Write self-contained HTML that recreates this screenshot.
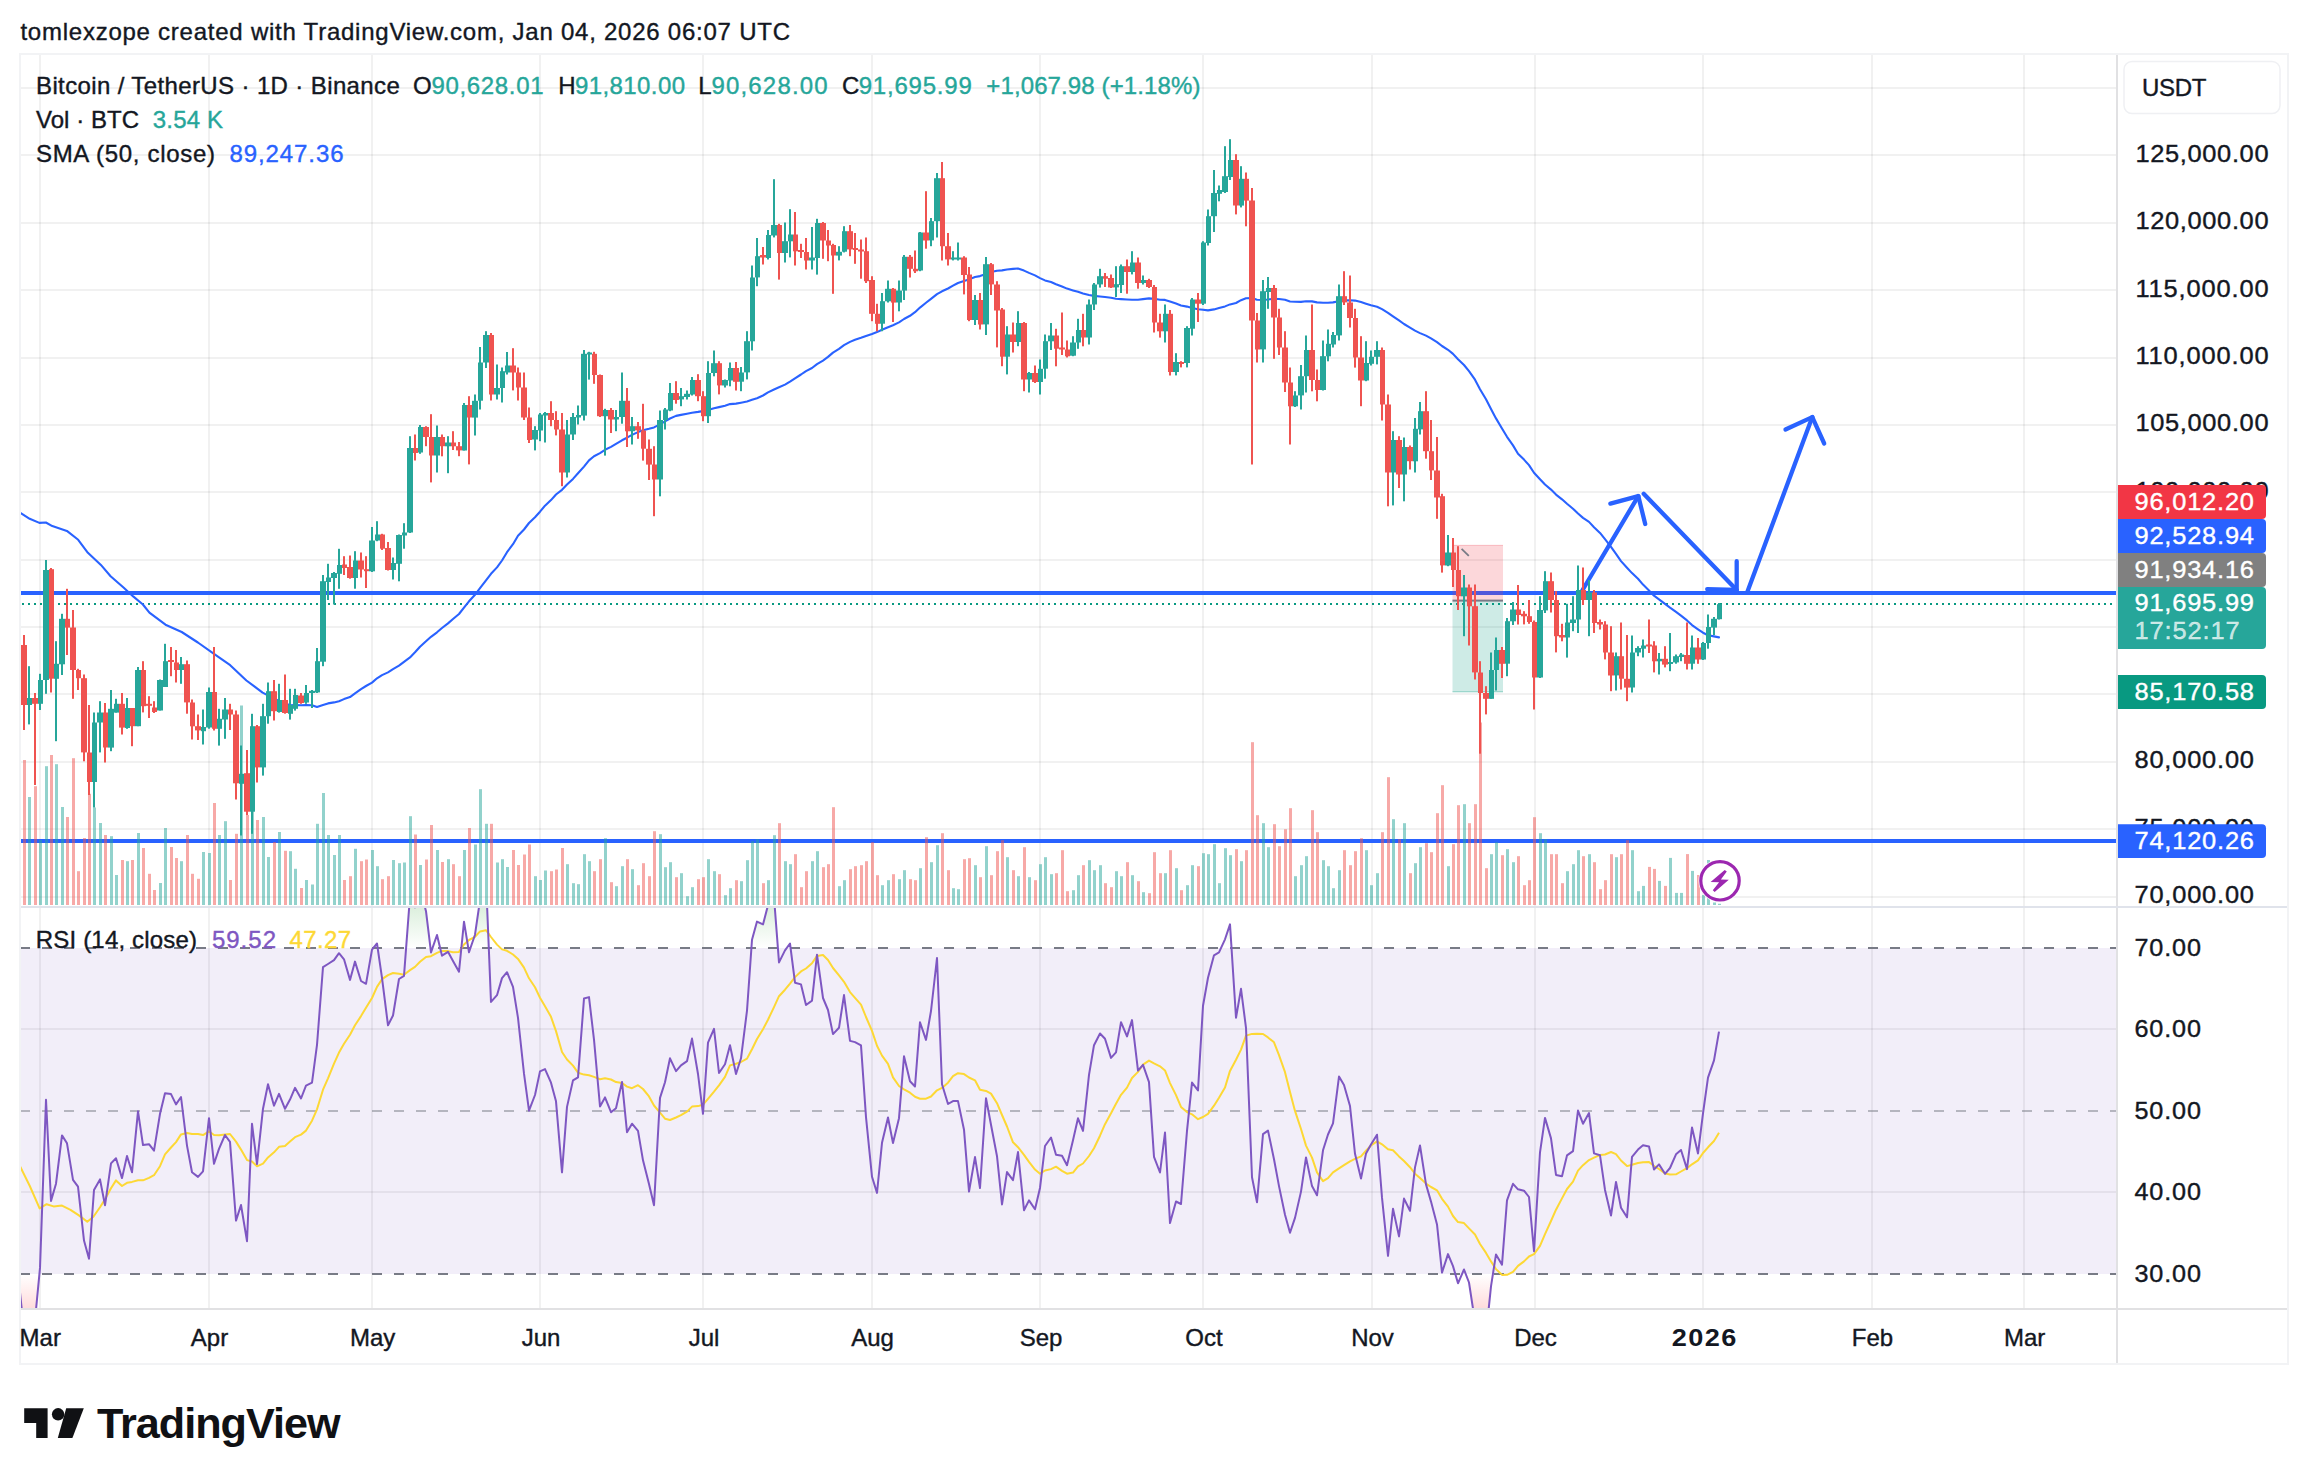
<!DOCTYPE html><html><head><meta charset="utf-8"><title>chart</title><style>html,body{margin:0;padding:0;background:#fff;width:2308px;height:1484px;overflow:hidden}</style></head><body><svg width="2308" height="1484" viewBox="0 0 2308 1484" font-family="'Liberation Sans',sans-serif" style="position:absolute;left:0;top:0">
<rect width="2308" height="1484" fill="#fff"/>
<defs><clipPath id="cm"><rect x="20" y="55" width="2096" height="851"/></clipPath><clipPath id="cr"><rect x="20" y="908" width="2096" height="400"/></clipPath><clipPath id="cax"><rect x="2118" y="55" width="169" height="851"/></clipPath><clipPath id="c70"><rect x="21" y="908" width="2095" height="40"/></clipPath><clipPath id="c30"><rect x="21" y="1274" width="2095" height="34"/></clipPath><linearGradient id="gup" x1="0" y1="908" x2="0" y2="948" gradientUnits="userSpaceOnUse"><stop offset="0" stop-color="#4caf50" stop-opacity="0.19"/><stop offset="1" stop-color="#4caf50" stop-opacity="0"/></linearGradient><linearGradient id="gdn" x1="0" y1="1274" x2="0" y2="1308" gradientUnits="userSpaceOnUse"><stop offset="0" stop-color="#ff5252" stop-opacity="0"/><stop offset="1" stop-color="#ff5252" stop-opacity="0.2"/></linearGradient></defs>
<rect x="20" y="948" width="2096" height="326" fill="#7e57c2" fill-opacity="0.1"/>
<rect x="39" y="55" width="2" height="1253" fill="#000" fill-opacity="0.055"/>
<rect x="208" y="55" width="2" height="1253" fill="#000" fill-opacity="0.055"/>
<rect x="371" y="55" width="2" height="1253" fill="#000" fill-opacity="0.055"/>
<rect x="539" y="55" width="2" height="1253" fill="#000" fill-opacity="0.055"/>
<rect x="702" y="55" width="2" height="1253" fill="#000" fill-opacity="0.055"/>
<rect x="871" y="55" width="2" height="1253" fill="#000" fill-opacity="0.055"/>
<rect x="1039" y="55" width="2" height="1253" fill="#000" fill-opacity="0.055"/>
<rect x="1202" y="55" width="2" height="1253" fill="#000" fill-opacity="0.055"/>
<rect x="1371" y="55" width="2" height="1253" fill="#000" fill-opacity="0.055"/>
<rect x="1534" y="55" width="2" height="1253" fill="#000" fill-opacity="0.055"/>
<rect x="1702" y="55" width="2" height="1253" fill="#000" fill-opacity="0.055"/>
<rect x="1871" y="55" width="2" height="1253" fill="#000" fill-opacity="0.055"/>
<rect x="2023" y="55" width="2" height="1253" fill="#000" fill-opacity="0.055"/>
<rect x="21" y="896" width="2095" height="2" fill="#000" fill-opacity="0.055"/>
<rect x="21" y="828" width="2095" height="2" fill="#000" fill-opacity="0.055"/>
<rect x="21" y="761" width="2095" height="2" fill="#000" fill-opacity="0.055"/>
<rect x="21" y="693" width="2095" height="2" fill="#000" fill-opacity="0.055"/>
<rect x="21" y="626" width="2095" height="2" fill="#000" fill-opacity="0.055"/>
<rect x="21" y="559" width="2095" height="2" fill="#000" fill-opacity="0.055"/>
<rect x="21" y="491" width="2095" height="2" fill="#000" fill-opacity="0.055"/>
<rect x="21" y="424" width="2095" height="2" fill="#000" fill-opacity="0.055"/>
<rect x="21" y="357" width="2095" height="2" fill="#000" fill-opacity="0.055"/>
<rect x="21" y="289" width="2095" height="2" fill="#000" fill-opacity="0.055"/>
<rect x="21" y="222" width="2095" height="2" fill="#000" fill-opacity="0.055"/>
<rect x="21" y="154" width="2095" height="2" fill="#000" fill-opacity="0.055"/>
<rect x="21" y="87" width="2095" height="2" fill="#000" fill-opacity="0.055"/>
<rect x="21" y="1028" width="2095" height="2" fill="#000" fill-opacity="0.055"/>
<rect x="21" y="1191" width="2095" height="2" fill="#000" fill-opacity="0.055"/>
<g clip-path="url(#cm)">
<rect x="20" y="591" width="2096" height="4" fill="#2962ff"/>
<rect x="20" y="839" width="2096" height="4" fill="#2962ff"/>
<path d="M22,604 H2116" stroke="#089981" stroke-width="2" stroke-dasharray="2 4" fill="none"/>
<rect x="1452.5" y="545.2" width="50.5" height="55.3" fill="#f23645" fill-opacity="0.2"/>
<rect x="1452.5" y="600.5" width="50.5" height="91.5" fill="#089981" fill-opacity="0.2"/>
<rect x="1452.5" y="691" width="50.5" height="1.5" fill="#089981" fill-opacity="0.25"/>
<rect x="1452.5" y="544.8" width="50.5" height="1.2" fill="#f23645" fill-opacity="0.2"/>
<rect x="1452.5" y="599.6" width="50.5" height="2" fill="#787b86"/>
<path d="M1461.6,548.8 L1468.8,555.8" stroke="#787b86" stroke-width="1.8" fill="none"/>
<path d="M1581.7,591.5 L1638.3,496.1" fill="none" stroke="#2962ff" stroke-width="4.3" stroke-linecap="round" stroke-linejoin="round"/>
<path d="M1610.4,503.6 L1638.3,496.1 L1645.2,524" fill="none" stroke="#2962ff" stroke-width="4.3" stroke-linecap="round" stroke-linejoin="round"/>
<path d="M1643.7,493.8 L1736.7,589.9" fill="none" stroke="#2962ff" stroke-width="4.3" stroke-linecap="round" stroke-linejoin="round"/>
<path d="M1736.7,561.2 L1736.7,589.9 L1707.2,589.1" fill="none" stroke="#2962ff" stroke-width="4.3" stroke-linecap="round" stroke-linejoin="round"/>
<path d="M1747.5,591.5 L1812.3,417.1" fill="none" stroke="#2962ff" stroke-width="4.3" stroke-linecap="round" stroke-linejoin="round"/>
<path d="M1785.5,429.5 L1812.3,417.1 L1824.2,443.5" fill="none" stroke="#2962ff" stroke-width="4.3" stroke-linecap="round" stroke-linejoin="round"/>
<rect x="23" y="760.0" width="3" height="145.0" fill="#ef5350" fill-opacity="0.5"/>
<rect x="28" y="797.0" width="3" height="108.0" fill="#26a69a" fill-opacity="0.5"/>
<rect x="34" y="786.2" width="3" height="118.8" fill="#ef5350" fill-opacity="0.5"/>
<rect x="39" y="840.0" width="3" height="65.0" fill="#26a69a" fill-opacity="0.5"/>
<rect x="45" y="766.2" width="3" height="138.8" fill="#26a69a" fill-opacity="0.5"/>
<rect x="50" y="755.0" width="3" height="150.0" fill="#ef5350" fill-opacity="0.5"/>
<rect x="55" y="764.2" width="3" height="140.8" fill="#26a69a" fill-opacity="0.5"/>
<rect x="61" y="807.0" width="3" height="98.0" fill="#26a69a" fill-opacity="0.5"/>
<rect x="66" y="817.0" width="3" height="88.0" fill="#ef5350" fill-opacity="0.5"/>
<rect x="72" y="758.2" width="3" height="146.8" fill="#ef5350" fill-opacity="0.5"/>
<rect x="77" y="871.2" width="3" height="33.8" fill="#ef5350" fill-opacity="0.5"/>
<rect x="83" y="838.0" width="3" height="67.0" fill="#ef5350" fill-opacity="0.5"/>
<rect x="88" y="793.8" width="3" height="111.2" fill="#ef5350" fill-opacity="0.5"/>
<rect x="93" y="807.5" width="3" height="97.5" fill="#26a69a" fill-opacity="0.5"/>
<rect x="99" y="823.0" width="3" height="82.0" fill="#26a69a" fill-opacity="0.5"/>
<rect x="104" y="835.0" width="3" height="70.0" fill="#ef5350" fill-opacity="0.5"/>
<rect x="110" y="836.2" width="3" height="68.8" fill="#26a69a" fill-opacity="0.5"/>
<rect x="115" y="875.0" width="3" height="30.0" fill="#26a69a" fill-opacity="0.5"/>
<rect x="121" y="860.0" width="3" height="45.0" fill="#ef5350" fill-opacity="0.5"/>
<rect x="126" y="861.2" width="3" height="43.8" fill="#26a69a" fill-opacity="0.5"/>
<rect x="131" y="860.0" width="3" height="45.0" fill="#ef5350" fill-opacity="0.5"/>
<rect x="137" y="833.0" width="3" height="72.0" fill="#26a69a" fill-opacity="0.5"/>
<rect x="142" y="848.0" width="3" height="57.0" fill="#ef5350" fill-opacity="0.5"/>
<rect x="148" y="873.8" width="3" height="31.2" fill="#ef5350" fill-opacity="0.5"/>
<rect x="153" y="890.0" width="3" height="15.0" fill="#ef5350" fill-opacity="0.5"/>
<rect x="159" y="883.0" width="3" height="22.0" fill="#26a69a" fill-opacity="0.5"/>
<rect x="164" y="828.0" width="3" height="77.0" fill="#26a69a" fill-opacity="0.5"/>
<rect x="170" y="847.0" width="3" height="58.0" fill="#ef5350" fill-opacity="0.5"/>
<rect x="175" y="858.0" width="3" height="47.0" fill="#ef5350" fill-opacity="0.5"/>
<rect x="180" y="861.2" width="3" height="43.8" fill="#26a69a" fill-opacity="0.5"/>
<rect x="186" y="835.0" width="3" height="70.0" fill="#ef5350" fill-opacity="0.5"/>
<rect x="191" y="873.8" width="3" height="31.2" fill="#ef5350" fill-opacity="0.5"/>
<rect x="197" y="878.8" width="3" height="26.2" fill="#ef5350" fill-opacity="0.5"/>
<rect x="202" y="852.0" width="3" height="53.0" fill="#26a69a" fill-opacity="0.5"/>
<rect x="208" y="853.0" width="3" height="52.0" fill="#26a69a" fill-opacity="0.5"/>
<rect x="213" y="803.0" width="3" height="102.0" fill="#ef5350" fill-opacity="0.5"/>
<rect x="218" y="835.0" width="3" height="70.0" fill="#26a69a" fill-opacity="0.5"/>
<rect x="224" y="821.2" width="3" height="83.8" fill="#26a69a" fill-opacity="0.5"/>
<rect x="229" y="880.0" width="3" height="25.0" fill="#ef5350" fill-opacity="0.5"/>
<rect x="235" y="833.8" width="3" height="71.2" fill="#ef5350" fill-opacity="0.5"/>
<rect x="240" y="705.5" width="3" height="199.5" fill="#26a69a" fill-opacity="0.5"/>
<rect x="246" y="815.0" width="3" height="90.0" fill="#ef5350" fill-opacity="0.5"/>
<rect x="251" y="790.0" width="3" height="115.0" fill="#26a69a" fill-opacity="0.5"/>
<rect x="256" y="820.0" width="3" height="85.0" fill="#ef5350" fill-opacity="0.5"/>
<rect x="262" y="817.0" width="3" height="88.0" fill="#26a69a" fill-opacity="0.5"/>
<rect x="267" y="857.0" width="3" height="48.0" fill="#26a69a" fill-opacity="0.5"/>
<rect x="273" y="842.0" width="3" height="63.0" fill="#ef5350" fill-opacity="0.5"/>
<rect x="278" y="832.0" width="3" height="73.0" fill="#26a69a" fill-opacity="0.5"/>
<rect x="284" y="850.8" width="3" height="54.2" fill="#ef5350" fill-opacity="0.5"/>
<rect x="289" y="851.2" width="3" height="53.8" fill="#26a69a" fill-opacity="0.5"/>
<rect x="294" y="868.8" width="3" height="36.2" fill="#26a69a" fill-opacity="0.5"/>
<rect x="300" y="888.0" width="3" height="17.0" fill="#ef5350" fill-opacity="0.5"/>
<rect x="305" y="880.0" width="3" height="25.0" fill="#26a69a" fill-opacity="0.5"/>
<rect x="311" y="884.5" width="3" height="20.5" fill="#26a69a" fill-opacity="0.5"/>
<rect x="316" y="823.8" width="3" height="81.2" fill="#26a69a" fill-opacity="0.5"/>
<rect x="322" y="793.0" width="3" height="112.0" fill="#26a69a" fill-opacity="0.5"/>
<rect x="327" y="835.0" width="3" height="70.0" fill="#26a69a" fill-opacity="0.5"/>
<rect x="333" y="855.0" width="3" height="50.0" fill="#26a69a" fill-opacity="0.5"/>
<rect x="338" y="835.0" width="3" height="70.0" fill="#26a69a" fill-opacity="0.5"/>
<rect x="343" y="880.0" width="3" height="25.0" fill="#ef5350" fill-opacity="0.5"/>
<rect x="349" y="876.2" width="3" height="28.8" fill="#ef5350" fill-opacity="0.5"/>
<rect x="354" y="848.8" width="3" height="56.2" fill="#26a69a" fill-opacity="0.5"/>
<rect x="360" y="861.2" width="3" height="43.8" fill="#ef5350" fill-opacity="0.5"/>
<rect x="365" y="859.5" width="3" height="45.5" fill="#ef5350" fill-opacity="0.5"/>
<rect x="371" y="850.0" width="3" height="55.0" fill="#26a69a" fill-opacity="0.5"/>
<rect x="376" y="866.2" width="3" height="38.8" fill="#26a69a" fill-opacity="0.5"/>
<rect x="381" y="879.2" width="3" height="25.8" fill="#ef5350" fill-opacity="0.5"/>
<rect x="387" y="876.2" width="3" height="28.8" fill="#ef5350" fill-opacity="0.5"/>
<rect x="392" y="860.0" width="3" height="45.0" fill="#26a69a" fill-opacity="0.5"/>
<rect x="398" y="863.2" width="3" height="41.8" fill="#26a69a" fill-opacity="0.5"/>
<rect x="403" y="862.5" width="3" height="42.5" fill="#26a69a" fill-opacity="0.5"/>
<rect x="409" y="816.2" width="3" height="88.8" fill="#26a69a" fill-opacity="0.5"/>
<rect x="414" y="834.5" width="3" height="70.5" fill="#ef5350" fill-opacity="0.5"/>
<rect x="419" y="865.0" width="3" height="40.0" fill="#26a69a" fill-opacity="0.5"/>
<rect x="425" y="859.5" width="3" height="45.5" fill="#ef5350" fill-opacity="0.5"/>
<rect x="430" y="825.0" width="3" height="80.0" fill="#ef5350" fill-opacity="0.5"/>
<rect x="436" y="850.0" width="3" height="55.0" fill="#26a69a" fill-opacity="0.5"/>
<rect x="441" y="862.0" width="3" height="43.0" fill="#ef5350" fill-opacity="0.5"/>
<rect x="447" y="859.2" width="3" height="45.8" fill="#26a69a" fill-opacity="0.5"/>
<rect x="452" y="864.2" width="3" height="40.8" fill="#ef5350" fill-opacity="0.5"/>
<rect x="458" y="876.2" width="3" height="28.8" fill="#ef5350" fill-opacity="0.5"/>
<rect x="463" y="850.0" width="3" height="55.0" fill="#26a69a" fill-opacity="0.5"/>
<rect x="468" y="828.0" width="3" height="77.0" fill="#ef5350" fill-opacity="0.5"/>
<rect x="474" y="844.5" width="3" height="60.5" fill="#26a69a" fill-opacity="0.5"/>
<rect x="479" y="789.2" width="3" height="115.8" fill="#26a69a" fill-opacity="0.5"/>
<rect x="485" y="823.8" width="3" height="81.2" fill="#26a69a" fill-opacity="0.5"/>
<rect x="490" y="823.8" width="3" height="81.2" fill="#ef5350" fill-opacity="0.5"/>
<rect x="496" y="862.5" width="3" height="42.5" fill="#26a69a" fill-opacity="0.5"/>
<rect x="501" y="859.2" width="3" height="45.8" fill="#26a69a" fill-opacity="0.5"/>
<rect x="506" y="867.0" width="3" height="38.0" fill="#26a69a" fill-opacity="0.5"/>
<rect x="512" y="850.0" width="3" height="55.0" fill="#ef5350" fill-opacity="0.5"/>
<rect x="517" y="865.0" width="3" height="40.0" fill="#ef5350" fill-opacity="0.5"/>
<rect x="523" y="854.5" width="3" height="50.5" fill="#ef5350" fill-opacity="0.5"/>
<rect x="528" y="844.5" width="3" height="60.5" fill="#ef5350" fill-opacity="0.5"/>
<rect x="534" y="876.2" width="3" height="28.8" fill="#26a69a" fill-opacity="0.5"/>
<rect x="539" y="880.0" width="3" height="25.0" fill="#26a69a" fill-opacity="0.5"/>
<rect x="544" y="870.5" width="3" height="34.5" fill="#26a69a" fill-opacity="0.5"/>
<rect x="550" y="871.2" width="3" height="33.8" fill="#ef5350" fill-opacity="0.5"/>
<rect x="555" y="869.5" width="3" height="35.5" fill="#ef5350" fill-opacity="0.5"/>
<rect x="561" y="848.0" width="3" height="57.0" fill="#ef5350" fill-opacity="0.5"/>
<rect x="566" y="864.2" width="3" height="40.8" fill="#26a69a" fill-opacity="0.5"/>
<rect x="572" y="883.2" width="3" height="21.8" fill="#26a69a" fill-opacity="0.5"/>
<rect x="577" y="884.2" width="3" height="20.8" fill="#26a69a" fill-opacity="0.5"/>
<rect x="583" y="854.2" width="3" height="50.8" fill="#26a69a" fill-opacity="0.5"/>
<rect x="588" y="861.2" width="3" height="43.8" fill="#26a69a" fill-opacity="0.5"/>
<rect x="593" y="871.2" width="3" height="33.8" fill="#ef5350" fill-opacity="0.5"/>
<rect x="599" y="859.2" width="3" height="45.8" fill="#ef5350" fill-opacity="0.5"/>
<rect x="604" y="838.2" width="3" height="66.8" fill="#26a69a" fill-opacity="0.5"/>
<rect x="610" y="882.2" width="3" height="22.8" fill="#ef5350" fill-opacity="0.5"/>
<rect x="615" y="886.2" width="3" height="18.8" fill="#26a69a" fill-opacity="0.5"/>
<rect x="621" y="866.2" width="3" height="38.8" fill="#26a69a" fill-opacity="0.5"/>
<rect x="626" y="859.2" width="3" height="45.8" fill="#ef5350" fill-opacity="0.5"/>
<rect x="631" y="869.2" width="3" height="35.8" fill="#26a69a" fill-opacity="0.5"/>
<rect x="637" y="885.2" width="3" height="19.8" fill="#ef5350" fill-opacity="0.5"/>
<rect x="642" y="863.2" width="3" height="41.8" fill="#ef5350" fill-opacity="0.5"/>
<rect x="648" y="876.2" width="3" height="28.8" fill="#ef5350" fill-opacity="0.5"/>
<rect x="653" y="831.2" width="3" height="73.8" fill="#ef5350" fill-opacity="0.5"/>
<rect x="659" y="834.2" width="3" height="70.8" fill="#26a69a" fill-opacity="0.5"/>
<rect x="664" y="867.2" width="3" height="37.8" fill="#26a69a" fill-opacity="0.5"/>
<rect x="669" y="862.2" width="3" height="42.8" fill="#26a69a" fill-opacity="0.5"/>
<rect x="675" y="877.2" width="3" height="27.8" fill="#ef5350" fill-opacity="0.5"/>
<rect x="680" y="873.2" width="3" height="31.8" fill="#26a69a" fill-opacity="0.5"/>
<rect x="686" y="896.2" width="3" height="8.8" fill="#26a69a" fill-opacity="0.5"/>
<rect x="691" y="887.2" width="3" height="17.8" fill="#26a69a" fill-opacity="0.5"/>
<rect x="697" y="879.2" width="3" height="25.8" fill="#ef5350" fill-opacity="0.5"/>
<rect x="702" y="877.2" width="3" height="27.8" fill="#ef5350" fill-opacity="0.5"/>
<rect x="707" y="859.2" width="3" height="45.8" fill="#26a69a" fill-opacity="0.5"/>
<rect x="713" y="871.2" width="3" height="33.8" fill="#26a69a" fill-opacity="0.5"/>
<rect x="718" y="874.2" width="3" height="30.8" fill="#ef5350" fill-opacity="0.5"/>
<rect x="724" y="895.2" width="3" height="9.8" fill="#26a69a" fill-opacity="0.5"/>
<rect x="729" y="888.2" width="3" height="16.8" fill="#26a69a" fill-opacity="0.5"/>
<rect x="735" y="880.2" width="3" height="24.8" fill="#ef5350" fill-opacity="0.5"/>
<rect x="740" y="881.2" width="3" height="23.8" fill="#26a69a" fill-opacity="0.5"/>
<rect x="746" y="860.2" width="3" height="44.8" fill="#26a69a" fill-opacity="0.5"/>
<rect x="751" y="841.2" width="3" height="63.8" fill="#26a69a" fill-opacity="0.5"/>
<rect x="756" y="839.2" width="3" height="65.8" fill="#26a69a" fill-opacity="0.5"/>
<rect x="762" y="883.2" width="3" height="21.8" fill="#ef5350" fill-opacity="0.5"/>
<rect x="767" y="880.2" width="3" height="24.8" fill="#26a69a" fill-opacity="0.5"/>
<rect x="773" y="835.2" width="3" height="69.8" fill="#26a69a" fill-opacity="0.5"/>
<rect x="778" y="823.2" width="3" height="81.8" fill="#ef5350" fill-opacity="0.5"/>
<rect x="784" y="861.2" width="3" height="43.8" fill="#26a69a" fill-opacity="0.5"/>
<rect x="789" y="864.2" width="3" height="40.8" fill="#26a69a" fill-opacity="0.5"/>
<rect x="794" y="854.2" width="3" height="50.8" fill="#ef5350" fill-opacity="0.5"/>
<rect x="800" y="887.2" width="3" height="17.8" fill="#ef5350" fill-opacity="0.5"/>
<rect x="805" y="871.2" width="3" height="33.8" fill="#ef5350" fill-opacity="0.5"/>
<rect x="811" y="861.2" width="3" height="43.8" fill="#26a69a" fill-opacity="0.5"/>
<rect x="816" y="851.2" width="3" height="53.8" fill="#26a69a" fill-opacity="0.5"/>
<rect x="822" y="867.2" width="3" height="37.8" fill="#ef5350" fill-opacity="0.5"/>
<rect x="827" y="864.2" width="3" height="40.8" fill="#ef5350" fill-opacity="0.5"/>
<rect x="832" y="807.2" width="3" height="97.8" fill="#ef5350" fill-opacity="0.5"/>
<rect x="838" y="886.2" width="3" height="18.8" fill="#26a69a" fill-opacity="0.5"/>
<rect x="843" y="880.2" width="3" height="24.8" fill="#26a69a" fill-opacity="0.5"/>
<rect x="849" y="869.2" width="3" height="35.8" fill="#ef5350" fill-opacity="0.5"/>
<rect x="854" y="866.2" width="3" height="38.8" fill="#ef5350" fill-opacity="0.5"/>
<rect x="860" y="865.2" width="3" height="39.8" fill="#ef5350" fill-opacity="0.5"/>
<rect x="865" y="861.2" width="3" height="43.8" fill="#ef5350" fill-opacity="0.5"/>
<rect x="871" y="842.2" width="3" height="62.8" fill="#ef5350" fill-opacity="0.5"/>
<rect x="876" y="875.2" width="3" height="29.8" fill="#ef5350" fill-opacity="0.5"/>
<rect x="881" y="885.2" width="3" height="19.8" fill="#26a69a" fill-opacity="0.5"/>
<rect x="887" y="880.2" width="3" height="24.8" fill="#26a69a" fill-opacity="0.5"/>
<rect x="892" y="874.2" width="3" height="30.8" fill="#ef5350" fill-opacity="0.5"/>
<rect x="898" y="879.2" width="3" height="25.8" fill="#26a69a" fill-opacity="0.5"/>
<rect x="903" y="870.2" width="3" height="34.8" fill="#26a69a" fill-opacity="0.5"/>
<rect x="909" y="879.2" width="3" height="25.8" fill="#ef5350" fill-opacity="0.5"/>
<rect x="914" y="880.2" width="3" height="24.8" fill="#ef5350" fill-opacity="0.5"/>
<rect x="919" y="868.2" width="3" height="36.8" fill="#26a69a" fill-opacity="0.5"/>
<rect x="925" y="837.2" width="3" height="67.8" fill="#ef5350" fill-opacity="0.5"/>
<rect x="930" y="862.2" width="3" height="42.8" fill="#26a69a" fill-opacity="0.5"/>
<rect x="936" y="845.2" width="3" height="59.8" fill="#26a69a" fill-opacity="0.5"/>
<rect x="941" y="833.2" width="3" height="71.8" fill="#ef5350" fill-opacity="0.5"/>
<rect x="947" y="870.2" width="3" height="34.8" fill="#ef5350" fill-opacity="0.5"/>
<rect x="952" y="888.2" width="3" height="16.8" fill="#26a69a" fill-opacity="0.5"/>
<rect x="957" y="889.2" width="3" height="15.8" fill="#26a69a" fill-opacity="0.5"/>
<rect x="963" y="859.2" width="3" height="45.8" fill="#ef5350" fill-opacity="0.5"/>
<rect x="968" y="858.2" width="3" height="46.8" fill="#ef5350" fill-opacity="0.5"/>
<rect x="974" y="865.2" width="3" height="39.8" fill="#26a69a" fill-opacity="0.5"/>
<rect x="979" y="877.2" width="3" height="27.8" fill="#ef5350" fill-opacity="0.5"/>
<rect x="985" y="846.2" width="3" height="58.8" fill="#26a69a" fill-opacity="0.5"/>
<rect x="990" y="875.2" width="3" height="29.8" fill="#ef5350" fill-opacity="0.5"/>
<rect x="996" y="851.2" width="3" height="53.8" fill="#ef5350" fill-opacity="0.5"/>
<rect x="1001" y="840.2" width="3" height="64.8" fill="#ef5350" fill-opacity="0.5"/>
<rect x="1006" y="857.2" width="3" height="47.8" fill="#26a69a" fill-opacity="0.5"/>
<rect x="1012" y="870.2" width="3" height="34.8" fill="#ef5350" fill-opacity="0.5"/>
<rect x="1017" y="876.2" width="3" height="28.8" fill="#26a69a" fill-opacity="0.5"/>
<rect x="1023" y="847.2" width="3" height="57.8" fill="#ef5350" fill-opacity="0.5"/>
<rect x="1028" y="877.2" width="3" height="27.8" fill="#26a69a" fill-opacity="0.5"/>
<rect x="1034" y="880.2" width="3" height="24.8" fill="#ef5350" fill-opacity="0.5"/>
<rect x="1039" y="864.2" width="3" height="40.8" fill="#26a69a" fill-opacity="0.5"/>
<rect x="1044" y="857.2" width="3" height="47.8" fill="#26a69a" fill-opacity="0.5"/>
<rect x="1050" y="874.2" width="3" height="30.8" fill="#26a69a" fill-opacity="0.5"/>
<rect x="1055" y="873.2" width="3" height="31.8" fill="#ef5350" fill-opacity="0.5"/>
<rect x="1061" y="850.2" width="3" height="54.8" fill="#ef5350" fill-opacity="0.5"/>
<rect x="1066" y="891.2" width="3" height="13.8" fill="#ef5350" fill-opacity="0.5"/>
<rect x="1072" y="890.2" width="3" height="14.8" fill="#26a69a" fill-opacity="0.5"/>
<rect x="1077" y="875.2" width="3" height="29.8" fill="#26a69a" fill-opacity="0.5"/>
<rect x="1082" y="865.2" width="3" height="39.8" fill="#ef5350" fill-opacity="0.5"/>
<rect x="1088" y="860.2" width="3" height="44.8" fill="#26a69a" fill-opacity="0.5"/>
<rect x="1093" y="870.2" width="3" height="34.8" fill="#26a69a" fill-opacity="0.5"/>
<rect x="1099" y="865.2" width="3" height="39.8" fill="#26a69a" fill-opacity="0.5"/>
<rect x="1104" y="883.2" width="3" height="21.8" fill="#ef5350" fill-opacity="0.5"/>
<rect x="1110" y="887.2" width="3" height="17.8" fill="#ef5350" fill-opacity="0.5"/>
<rect x="1115" y="871.2" width="3" height="33.8" fill="#26a69a" fill-opacity="0.5"/>
<rect x="1120" y="876.2" width="3" height="28.8" fill="#26a69a" fill-opacity="0.5"/>
<rect x="1126" y="862.2" width="3" height="42.8" fill="#ef5350" fill-opacity="0.5"/>
<rect x="1131" y="875.2" width="3" height="29.8" fill="#26a69a" fill-opacity="0.5"/>
<rect x="1137" y="881.2" width="3" height="23.8" fill="#ef5350" fill-opacity="0.5"/>
<rect x="1142" y="892.2" width="3" height="12.8" fill="#26a69a" fill-opacity="0.5"/>
<rect x="1148" y="893.2" width="3" height="11.8" fill="#ef5350" fill-opacity="0.5"/>
<rect x="1153" y="852.2" width="3" height="52.8" fill="#ef5350" fill-opacity="0.5"/>
<rect x="1159" y="873.2" width="3" height="31.8" fill="#ef5350" fill-opacity="0.5"/>
<rect x="1164" y="873.2" width="3" height="31.8" fill="#26a69a" fill-opacity="0.5"/>
<rect x="1169" y="850.2" width="3" height="54.8" fill="#ef5350" fill-opacity="0.5"/>
<rect x="1175" y="868.2" width="3" height="36.8" fill="#26a69a" fill-opacity="0.5"/>
<rect x="1180" y="890.2" width="3" height="14.8" fill="#ef5350" fill-opacity="0.5"/>
<rect x="1186" y="885.2" width="3" height="19.8" fill="#26a69a" fill-opacity="0.5"/>
<rect x="1191" y="865.2" width="3" height="39.8" fill="#26a69a" fill-opacity="0.5"/>
<rect x="1197" y="866.2" width="3" height="38.8" fill="#ef5350" fill-opacity="0.5"/>
<rect x="1202" y="853.2" width="3" height="51.8" fill="#26a69a" fill-opacity="0.5"/>
<rect x="1207" y="854.2" width="3" height="50.8" fill="#26a69a" fill-opacity="0.5"/>
<rect x="1213" y="844.2" width="3" height="60.8" fill="#26a69a" fill-opacity="0.5"/>
<rect x="1218" y="883.2" width="3" height="21.8" fill="#26a69a" fill-opacity="0.5"/>
<rect x="1224" y="848.2" width="3" height="56.8" fill="#26a69a" fill-opacity="0.5"/>
<rect x="1229" y="855.2" width="3" height="49.8" fill="#26a69a" fill-opacity="0.5"/>
<rect x="1235" y="849.2" width="3" height="55.8" fill="#ef5350" fill-opacity="0.5"/>
<rect x="1240" y="861.2" width="3" height="43.8" fill="#26a69a" fill-opacity="0.5"/>
<rect x="1245" y="850.2" width="3" height="54.8" fill="#ef5350" fill-opacity="0.5"/>
<rect x="1251" y="742.2" width="3" height="162.8" fill="#ef5350" fill-opacity="0.5"/>
<rect x="1256" y="815.2" width="3" height="89.8" fill="#ef5350" fill-opacity="0.5"/>
<rect x="1262" y="823.2" width="3" height="81.8" fill="#26a69a" fill-opacity="0.5"/>
<rect x="1267" y="847.2" width="3" height="57.8" fill="#26a69a" fill-opacity="0.5"/>
<rect x="1273" y="824.2" width="3" height="80.8" fill="#ef5350" fill-opacity="0.5"/>
<rect x="1278" y="846.2" width="3" height="58.8" fill="#ef5350" fill-opacity="0.5"/>
<rect x="1284" y="829.2" width="3" height="75.8" fill="#ef5350" fill-opacity="0.5"/>
<rect x="1289" y="808.2" width="3" height="96.8" fill="#ef5350" fill-opacity="0.5"/>
<rect x="1294" y="876.2" width="3" height="28.8" fill="#26a69a" fill-opacity="0.5"/>
<rect x="1300" y="865.2" width="3" height="39.8" fill="#26a69a" fill-opacity="0.5"/>
<rect x="1305" y="856.2" width="3" height="48.8" fill="#26a69a" fill-opacity="0.5"/>
<rect x="1311" y="810.2" width="3" height="94.8" fill="#ef5350" fill-opacity="0.5"/>
<rect x="1316" y="832.2" width="3" height="72.8" fill="#ef5350" fill-opacity="0.5"/>
<rect x="1322" y="860.2" width="3" height="44.8" fill="#26a69a" fill-opacity="0.5"/>
<rect x="1327" y="866.2" width="3" height="38.8" fill="#26a69a" fill-opacity="0.5"/>
<rect x="1332" y="888.2" width="3" height="16.8" fill="#26a69a" fill-opacity="0.5"/>
<rect x="1338" y="870.2" width="3" height="34.8" fill="#26a69a" fill-opacity="0.5"/>
<rect x="1343" y="850.2" width="3" height="54.8" fill="#ef5350" fill-opacity="0.5"/>
<rect x="1349" y="865.2" width="3" height="39.8" fill="#ef5350" fill-opacity="0.5"/>
<rect x="1354" y="851.2" width="3" height="53.8" fill="#ef5350" fill-opacity="0.5"/>
<rect x="1360" y="838.2" width="3" height="66.8" fill="#ef5350" fill-opacity="0.5"/>
<rect x="1365" y="850.2" width="3" height="54.8" fill="#26a69a" fill-opacity="0.5"/>
<rect x="1370" y="885.2" width="3" height="19.8" fill="#26a69a" fill-opacity="0.5"/>
<rect x="1376" y="873.2" width="3" height="31.8" fill="#26a69a" fill-opacity="0.5"/>
<rect x="1381" y="832.2" width="3" height="72.8" fill="#ef5350" fill-opacity="0.5"/>
<rect x="1387" y="777.2" width="3" height="127.8" fill="#ef5350" fill-opacity="0.5"/>
<rect x="1392" y="819.2" width="3" height="85.8" fill="#26a69a" fill-opacity="0.5"/>
<rect x="1398" y="839.2" width="3" height="65.8" fill="#ef5350" fill-opacity="0.5"/>
<rect x="1403" y="823.2" width="3" height="81.8" fill="#26a69a" fill-opacity="0.5"/>
<rect x="1409" y="873.2" width="3" height="31.8" fill="#ef5350" fill-opacity="0.5"/>
<rect x="1414" y="863.2" width="3" height="41.8" fill="#26a69a" fill-opacity="0.5"/>
<rect x="1419" y="847.2" width="3" height="57.8" fill="#26a69a" fill-opacity="0.5"/>
<rect x="1425" y="843.2" width="3" height="61.8" fill="#ef5350" fill-opacity="0.5"/>
<rect x="1430" y="852.2" width="3" height="52.8" fill="#ef5350" fill-opacity="0.5"/>
<rect x="1436" y="813.2" width="3" height="91.8" fill="#ef5350" fill-opacity="0.5"/>
<rect x="1441" y="785.2" width="3" height="119.8" fill="#ef5350" fill-opacity="0.5"/>
<rect x="1447" y="866.2" width="3" height="38.8" fill="#26a69a" fill-opacity="0.5"/>
<rect x="1452" y="844.2" width="3" height="60.8" fill="#ef5350" fill-opacity="0.5"/>
<rect x="1457" y="805.2" width="3" height="99.8" fill="#ef5350" fill-opacity="0.5"/>
<rect x="1463" y="804.2" width="3" height="100.8" fill="#26a69a" fill-opacity="0.5"/>
<rect x="1468" y="823.2" width="3" height="81.8" fill="#ef5350" fill-opacity="0.5"/>
<rect x="1474" y="804.2" width="3" height="100.8" fill="#ef5350" fill-opacity="0.5"/>
<rect x="1479" y="722.5" width="3" height="182.5" fill="#ef5350" fill-opacity="0.5"/>
<rect x="1485" y="868.2" width="3" height="36.8" fill="#ef5350" fill-opacity="0.5"/>
<rect x="1490" y="854.2" width="3" height="50.8" fill="#26a69a" fill-opacity="0.5"/>
<rect x="1495" y="842.2" width="3" height="62.8" fill="#26a69a" fill-opacity="0.5"/>
<rect x="1501" y="855.2" width="3" height="49.8" fill="#ef5350" fill-opacity="0.5"/>
<rect x="1506" y="849.2" width="3" height="55.8" fill="#26a69a" fill-opacity="0.5"/>
<rect x="1512" y="862.2" width="3" height="42.8" fill="#26a69a" fill-opacity="0.5"/>
<rect x="1517" y="856.2" width="3" height="48.8" fill="#ef5350" fill-opacity="0.5"/>
<rect x="1523" y="885.2" width="3" height="19.8" fill="#ef5350" fill-opacity="0.5"/>
<rect x="1528" y="880.2" width="3" height="24.8" fill="#ef5350" fill-opacity="0.5"/>
<rect x="1533" y="817.2" width="3" height="87.8" fill="#ef5350" fill-opacity="0.5"/>
<rect x="1539" y="833.2" width="3" height="71.8" fill="#26a69a" fill-opacity="0.5"/>
<rect x="1544" y="839.2" width="3" height="65.8" fill="#26a69a" fill-opacity="0.5"/>
<rect x="1550" y="854.2" width="3" height="50.8" fill="#ef5350" fill-opacity="0.5"/>
<rect x="1555" y="854.2" width="3" height="50.8" fill="#ef5350" fill-opacity="0.5"/>
<rect x="1561" y="883.2" width="3" height="21.8" fill="#ef5350" fill-opacity="0.5"/>
<rect x="1566" y="871.2" width="3" height="33.8" fill="#26a69a" fill-opacity="0.5"/>
<rect x="1572" y="864.2" width="3" height="40.8" fill="#26a69a" fill-opacity="0.5"/>
<rect x="1577" y="850.2" width="3" height="54.8" fill="#26a69a" fill-opacity="0.5"/>
<rect x="1582" y="856.2" width="3" height="48.8" fill="#ef5350" fill-opacity="0.5"/>
<rect x="1588" y="854.2" width="3" height="50.8" fill="#26a69a" fill-opacity="0.5"/>
<rect x="1593" y="862.2" width="3" height="42.8" fill="#ef5350" fill-opacity="0.5"/>
<rect x="1599" y="889.2" width="3" height="15.8" fill="#ef5350" fill-opacity="0.5"/>
<rect x="1604" y="880.2" width="3" height="24.8" fill="#ef5350" fill-opacity="0.5"/>
<rect x="1610" y="854.2" width="3" height="50.8" fill="#ef5350" fill-opacity="0.5"/>
<rect x="1615" y="857.2" width="3" height="47.8" fill="#26a69a" fill-opacity="0.5"/>
<rect x="1620" y="854.2" width="3" height="50.8" fill="#ef5350" fill-opacity="0.5"/>
<rect x="1626" y="840.2" width="3" height="64.8" fill="#ef5350" fill-opacity="0.5"/>
<rect x="1631" y="850.2" width="3" height="54.8" fill="#26a69a" fill-opacity="0.5"/>
<rect x="1637" y="891.2" width="3" height="13.8" fill="#26a69a" fill-opacity="0.5"/>
<rect x="1642" y="885.9" width="3" height="19.1" fill="#26a69a" fill-opacity="0.5"/>
<rect x="1648" y="866.9" width="3" height="38.1" fill="#ef5350" fill-opacity="0.5"/>
<rect x="1653" y="868.9" width="3" height="36.1" fill="#ef5350" fill-opacity="0.5"/>
<rect x="1658" y="880.9" width="3" height="24.1" fill="#26a69a" fill-opacity="0.5"/>
<rect x="1664" y="885.9" width="3" height="19.1" fill="#ef5350" fill-opacity="0.5"/>
<rect x="1669" y="857.9" width="3" height="47.1" fill="#26a69a" fill-opacity="0.5"/>
<rect x="1675" y="892.9" width="3" height="12.1" fill="#26a69a" fill-opacity="0.5"/>
<rect x="1680" y="892.9" width="3" height="12.1" fill="#26a69a" fill-opacity="0.5"/>
<rect x="1686" y="854.1" width="3" height="50.9" fill="#ef5350" fill-opacity="0.5"/>
<rect x="1691" y="870.9" width="3" height="34.1" fill="#26a69a" fill-opacity="0.5"/>
<rect x="1697" y="875.0" width="3" height="30.0" fill="#ef5350" fill-opacity="0.5"/>
<rect x="1702" y="895.0" width="3" height="10.0" fill="#26a69a" fill-opacity="0.5"/>
<rect x="1707" y="860.0" width="3" height="45.0" fill="#26a69a" fill-opacity="0.5"/>
<rect x="1713" y="902.5" width="3" height="2.5" fill="#26a69a" fill-opacity="0.5"/>
<rect x="1718" y="903.8" width="3" height="1.2" fill="#26a69a" fill-opacity="0.5"/>
<path d="M19.0,512.3 L20.8,513.1 L29.7,518.8 L39.4,522.9 L45.9,522.5 L52.3,526.1 L66.9,530.9 L78.2,539.8 L87.9,552.8 L100.9,564.9 L110.6,576.2 L123.5,587.5 L133.2,596.4 L142.9,604.5 L149.4,612.6 L165.5,624.7 L181.7,632.0 L197.9,642.5 L214.0,653.8 L230.2,665.2 L246.4,680.5 L262.6,692.6 L267.4,695.1 L278.0,700.5 L290.0,705.3 L295.0,705.1 L301.0,705.2 L306.0,705.0 L312.0,705.2 L317.0,707.0 L323.0,705.1 L328.0,703.4 L334.0,702.4 L339.0,701.2 L344.0,699.1 L350.0,697.1 L355.0,693.3 L361.0,689.1 L366.0,686.0 L372.0,682.6 L377.0,678.3 L382.0,675.1 L388.0,672.4 L393.0,669.2 L399.0,665.7 L404.0,661.8 L410.0,657.4 L415.0,652.3 L420.0,646.7 L426.0,641.2 L431.0,636.8 L437.0,632.3 L442.0,628.0 L448.0,623.4 L453.0,619.0 L459.0,614.0 L464.0,607.6 L469.0,601.3 L475.0,594.8 L480.0,588.2 L486.0,580.3 L491.0,573.8 L497.0,567.4 L502.0,560.5 L507.0,552.2 L513.0,544.2 L518.0,535.7 L524.0,529.5 L529.0,523.0 L535.0,517.2 L540.0,511.7 L545.0,505.7 L551.0,500.1 L556.0,494.5 L562.0,489.8 L567.0,484.6 L573.0,478.9 L578.0,473.3 L584.0,466.6 L589.0,460.4 L594.0,456.3 L600.0,453.1 L605.0,449.8 L611.0,446.9 L616.0,443.9 L622.0,440.3 L627.0,437.7 L632.0,434.9 L638.0,432.1 L643.0,430.2 L649.0,428.8 L654.0,427.4 L660.0,424.4 L665.0,421.4 L670.0,418.5 L676.0,415.9 L681.0,414.9 L687.0,413.7 L692.0,412.7 L698.0,411.9 L703.0,411.1 L708.0,409.9 L714.0,408.2 L719.0,407.1 L725.0,405.7 L730.0,404.1 L736.0,403.6 L741.0,402.7 L747.0,401.5 L752.0,399.8 L757.0,398.2 L763.0,395.5 L768.0,392.4 L774.0,389.5 L779.0,387.3 L785.0,384.6 L790.0,381.6 L795.0,378.3 L801.0,374.5 L806.0,371.1 L812.0,368.0 L817.0,364.2 L823.0,360.6 L828.0,356.9 L833.0,352.6 L839.0,348.9 L844.0,345.2 L850.0,341.9 L855.0,339.8 L861.0,337.8 L866.0,335.9 L872.0,333.9 L877.0,332.1 L882.0,329.8 L888.0,327.2 L893.0,325.2 L899.0,322.4 L904.0,319.0 L910.0,315.8 L915.0,312.2 L920.0,307.6 L926.0,302.8 L931.0,298.9 L937.0,294.2 L942.0,291.3 L948.0,288.5 L953.0,285.7 L958.0,283.0 L964.0,280.9 L969.0,279.4 L975.0,277.0 L980.0,276.1 L986.0,274.1 L991.0,272.1 L997.0,270.7 L1002.0,270.4 L1007.0,269.5 L1013.0,268.9 L1018.0,268.5 L1024.0,270.6 L1029.0,272.9 L1035.0,275.4 L1040.0,278.1 L1045.0,280.4 L1051.0,282.0 L1056.0,284.2 L1062.0,286.5 L1067.0,288.6 L1073.0,290.4 L1078.0,291.8 L1083.0,293.4 L1089.0,295.0 L1094.0,295.9 L1100.0,296.5 L1105.0,297.0 L1111.0,297.7 L1116.0,298.8 L1121.0,299.1 L1127.0,299.5 L1132.0,299.8 L1138.0,299.8 L1143.0,299.1 L1149.0,298.4 L1154.0,298.8 L1160.0,299.7 L1165.0,299.9 L1170.0,301.5 L1176.0,303.6 L1181.0,305.5 L1187.0,306.6 L1192.0,308.0 L1198.0,309.3 L1203.0,309.7 L1208.0,310.4 L1214.0,309.4 L1219.0,308.0 L1225.0,306.4 L1230.0,304.4 L1236.0,303.0 L1241.0,300.2 L1246.0,298.2 L1252.0,298.1 L1257.0,299.8 L1263.0,300.0 L1268.0,299.5 L1274.0,298.7 L1279.0,299.0 L1285.0,299.8 L1290.0,301.5 L1295.0,301.8 L1301.0,301.9 L1306.0,301.2 L1312.0,301.4 L1317.0,302.4 L1323.0,302.8 L1328.0,302.7 L1333.0,302.4 L1339.0,301.2 L1344.0,300.4 L1350.0,300.2 L1355.0,300.6 L1361.0,302.1 L1366.0,303.7 L1371.0,305.3 L1377.0,306.7 L1382.0,309.1 L1388.0,312.8 L1393.0,316.3 L1399.0,320.4 L1404.0,324.0 L1410.0,327.6 L1415.0,330.6 L1420.0,333.1 L1426.0,335.6 L1431.0,338.4 L1437.0,342.1 L1442.0,346.0 L1448.0,349.8 L1453.0,353.9 L1458.0,359.3 L1464.0,365.0 L1469.0,371.1 L1475.0,379.7 L1480.0,389.2 L1486.0,399.3 L1491.0,408.9 L1496.0,418.4 L1502.0,428.5 L1507.0,436.8 L1513.0,445.4 L1518.0,453.7 L1524.0,459.6 L1529.0,465.1 L1534.0,472.8 L1540.0,479.2 L1545.0,484.5 L1551.0,489.6 L1556.0,494.6 L1562.0,499.3 L1567.0,503.8 L1573.0,508.7 L1578.0,513.5 L1583.0,517.9 L1589.0,521.9 L1594.0,527.2 L1600.0,532.9 L1605.0,539.2 L1611.0,546.8 L1616.0,553.9 L1621.0,561.1 L1627.0,567.7 L1632.0,573.1 L1638.0,578.8 L1643.0,584.6 L1649.0,590.5 L1654.0,595.7 L1659.0,599.4 L1665.0,603.9 L1670.0,607.6 L1676.0,611.8 L1681.0,615.7 L1687.0,620.4 L1692.0,625.1 L1698.0,629.3 L1703.0,632.7 L1708.0,635.3 L1714.0,636.4 L1719.0,637.4" fill="none" stroke="#2962ff" stroke-width="2.1" stroke-linejoin="round" stroke-linecap="round"/>
<rect x="23" y="635.0" width="2" height="95.0" fill="#ef5350"/>
<rect x="21" y="645.0" width="6" height="60.0" fill="#ef5350"/>
<rect x="28" y="666.2" width="2" height="58.2" fill="#26a69a"/>
<rect x="27" y="698.0" width="5" height="7.0" fill="#26a69a"/>
<rect x="34" y="693.0" width="2" height="92.0" fill="#ef5350"/>
<rect x="32" y="698.0" width="6" height="5.8" fill="#ef5350"/>
<rect x="39" y="673.8" width="2" height="36.2" fill="#26a69a"/>
<rect x="38" y="680.0" width="5" height="23.8" fill="#26a69a"/>
<rect x="45" y="560.0" width="2" height="133.8" fill="#26a69a"/>
<rect x="43" y="570.0" width="6" height="110.0" fill="#26a69a"/>
<rect x="50" y="568.0" width="2" height="124.5" fill="#ef5350"/>
<rect x="49" y="569.2" width="5" height="109.5" fill="#ef5350"/>
<rect x="55" y="641.2" width="2" height="100.0" fill="#26a69a"/>
<rect x="54" y="663.8" width="5" height="15.0" fill="#26a69a"/>
<rect x="61" y="613.8" width="2" height="61.2" fill="#26a69a"/>
<rect x="59" y="618.8" width="6" height="45.5" fill="#26a69a"/>
<rect x="66" y="588.8" width="2" height="66.2" fill="#ef5350"/>
<rect x="65" y="618.8" width="5" height="8.8" fill="#ef5350"/>
<rect x="72" y="610.0" width="2" height="88.8" fill="#ef5350"/>
<rect x="70" y="627.5" width="6" height="42.5" fill="#ef5350"/>
<rect x="77" y="668.8" width="2" height="21.2" fill="#ef5350"/>
<rect x="76" y="670.0" width="5" height="8.2" fill="#ef5350"/>
<rect x="83" y="674.5" width="2" height="86.8" fill="#ef5350"/>
<rect x="81" y="678.2" width="6" height="74.2" fill="#ef5350"/>
<rect x="88" y="705.0" width="2" height="90.0" fill="#ef5350"/>
<rect x="87" y="752.5" width="5" height="29.5" fill="#ef5350"/>
<rect x="93" y="712.5" width="2" height="95.0" fill="#26a69a"/>
<rect x="92" y="722.5" width="5" height="59.5" fill="#26a69a"/>
<rect x="99" y="701.2" width="2" height="51.2" fill="#26a69a"/>
<rect x="97" y="712.5" width="6" height="10.0" fill="#26a69a"/>
<rect x="104" y="703.0" width="2" height="59.5" fill="#ef5350"/>
<rect x="103" y="712.5" width="5" height="35.0" fill="#ef5350"/>
<rect x="110" y="690.0" width="2" height="61.2" fill="#26a69a"/>
<rect x="108" y="708.8" width="6" height="38.8" fill="#26a69a"/>
<rect x="115" y="698.8" width="2" height="13.8" fill="#26a69a"/>
<rect x="114" y="703.8" width="5" height="8.8" fill="#26a69a"/>
<rect x="121" y="693.0" width="2" height="41.5" fill="#ef5350"/>
<rect x="119" y="703.8" width="6" height="23.8" fill="#ef5350"/>
<rect x="126" y="698.0" width="2" height="30.8" fill="#26a69a"/>
<rect x="125" y="708.0" width="5" height="20.0" fill="#26a69a"/>
<rect x="131" y="708.0" width="2" height="38.2" fill="#ef5350"/>
<rect x="130" y="708.0" width="5" height="18.2" fill="#ef5350"/>
<rect x="137" y="667.0" width="2" height="59.2" fill="#26a69a"/>
<rect x="135" y="670.0" width="6" height="56.2" fill="#26a69a"/>
<rect x="142" y="661.2" width="2" height="51.2" fill="#ef5350"/>
<rect x="141" y="670.0" width="5" height="36.2" fill="#ef5350"/>
<rect x="148" y="696.2" width="2" height="21.8" fill="#ef5350"/>
<rect x="146" y="703.8" width="6" height="2.0" fill="#ef5350"/>
<rect x="153" y="701.2" width="2" height="11.8" fill="#ef5350"/>
<rect x="152" y="707.5" width="5" height="4.5" fill="#ef5350"/>
<rect x="159" y="679.5" width="2" height="31.0" fill="#26a69a"/>
<rect x="157" y="680.0" width="6" height="30.5" fill="#26a69a"/>
<rect x="164" y="643.8" width="2" height="43.2" fill="#26a69a"/>
<rect x="163" y="661.2" width="5" height="25.8" fill="#26a69a"/>
<rect x="170" y="647.0" width="2" height="29.2" fill="#ef5350"/>
<rect x="168" y="660.0" width="6" height="2.0" fill="#ef5350"/>
<rect x="175" y="650.0" width="2" height="32.5" fill="#ef5350"/>
<rect x="174" y="662.5" width="5" height="7.5" fill="#ef5350"/>
<rect x="180" y="657.0" width="2" height="26.8" fill="#26a69a"/>
<rect x="179" y="664.2" width="5" height="5.8" fill="#26a69a"/>
<rect x="186" y="660.5" width="2" height="53.2" fill="#ef5350"/>
<rect x="184" y="664.2" width="6" height="38.2" fill="#ef5350"/>
<rect x="191" y="699.5" width="2" height="40.0" fill="#ef5350"/>
<rect x="190" y="702.5" width="5" height="23.8" fill="#ef5350"/>
<rect x="197" y="714.5" width="2" height="25.5" fill="#ef5350"/>
<rect x="195" y="726.2" width="6" height="4.2" fill="#ef5350"/>
<rect x="202" y="709.5" width="2" height="35.0" fill="#26a69a"/>
<rect x="201" y="727.0" width="5" height="4.2" fill="#26a69a"/>
<rect x="208" y="687.5" width="2" height="41.2" fill="#26a69a"/>
<rect x="206" y="692.0" width="6" height="35.5" fill="#26a69a"/>
<rect x="213" y="647.0" width="2" height="83.5" fill="#ef5350"/>
<rect x="212" y="692.0" width="5" height="36.8" fill="#ef5350"/>
<rect x="218" y="708.8" width="2" height="36.8" fill="#26a69a"/>
<rect x="217" y="718.8" width="5" height="10.0" fill="#26a69a"/>
<rect x="224" y="698.0" width="2" height="40.8" fill="#26a69a"/>
<rect x="222" y="709.5" width="6" height="10.0" fill="#26a69a"/>
<rect x="229" y="703.8" width="2" height="26.2" fill="#ef5350"/>
<rect x="228" y="709.5" width="5" height="5.0" fill="#ef5350"/>
<rect x="235" y="710.5" width="2" height="89.0" fill="#ef5350"/>
<rect x="233" y="714.5" width="6" height="68.8" fill="#ef5350"/>
<rect x="240" y="745.5" width="2" height="90.0" fill="#26a69a"/>
<rect x="239" y="773.8" width="5" height="10.0" fill="#26a69a"/>
<rect x="246" y="750.0" width="2" height="65.0" fill="#ef5350"/>
<rect x="244" y="773.2" width="6" height="38.5" fill="#ef5350"/>
<rect x="251" y="713.8" width="2" height="120.0" fill="#26a69a"/>
<rect x="250" y="726.2" width="5" height="85.5" fill="#26a69a"/>
<rect x="256" y="725.0" width="2" height="57.5" fill="#ef5350"/>
<rect x="255" y="726.2" width="5" height="41.2" fill="#ef5350"/>
<rect x="262" y="703.8" width="2" height="71.8" fill="#26a69a"/>
<rect x="260" y="716.2" width="6" height="51.2" fill="#26a69a"/>
<rect x="267" y="682.5" width="2" height="41.2" fill="#26a69a"/>
<rect x="266" y="691.2" width="5" height="25.0" fill="#26a69a"/>
<rect x="273" y="680.0" width="2" height="40.5" fill="#ef5350"/>
<rect x="271" y="691.2" width="6" height="20.0" fill="#ef5350"/>
<rect x="278" y="683.8" width="2" height="28.8" fill="#26a69a"/>
<rect x="277" y="700.0" width="5" height="12.0" fill="#26a69a"/>
<rect x="284" y="674.5" width="2" height="39.2" fill="#ef5350"/>
<rect x="282" y="700.0" width="6" height="13.0" fill="#ef5350"/>
<rect x="289" y="688.8" width="2" height="30.8" fill="#26a69a"/>
<rect x="288" y="705.0" width="5" height="8.8" fill="#26a69a"/>
<rect x="294" y="688.8" width="2" height="21.8" fill="#26a69a"/>
<rect x="293" y="695.0" width="5" height="13.8" fill="#26a69a"/>
<rect x="300" y="693.0" width="2" height="10.8" fill="#ef5350"/>
<rect x="298" y="695.5" width="6" height="7.5" fill="#ef5350"/>
<rect x="305" y="685.0" width="2" height="18.8" fill="#26a69a"/>
<rect x="304" y="693.0" width="5" height="9.5" fill="#26a69a"/>
<rect x="311" y="690.0" width="2" height="18.0" fill="#26a69a"/>
<rect x="309" y="690.8" width="6" height="2.2" fill="#26a69a"/>
<rect x="316" y="648.0" width="2" height="45.0" fill="#26a69a"/>
<rect x="315" y="661.2" width="5" height="31.2" fill="#26a69a"/>
<rect x="322" y="575.0" width="2" height="91.2" fill="#26a69a"/>
<rect x="320" y="581.2" width="6" height="80.5" fill="#26a69a"/>
<rect x="327" y="563.8" width="2" height="36.2" fill="#26a69a"/>
<rect x="326" y="577.5" width="5" height="4.5" fill="#26a69a"/>
<rect x="333" y="572.0" width="2" height="32.5" fill="#26a69a"/>
<rect x="331" y="573.0" width="6" height="5.0" fill="#26a69a"/>
<rect x="338" y="548.8" width="2" height="40.0" fill="#26a69a"/>
<rect x="337" y="565.0" width="5" height="8.8" fill="#26a69a"/>
<rect x="343" y="556.2" width="2" height="18.8" fill="#ef5350"/>
<rect x="342" y="564.5" width="5" height="3.5" fill="#ef5350"/>
<rect x="349" y="555.5" width="2" height="23.2" fill="#ef5350"/>
<rect x="347" y="567.0" width="6" height="11.0" fill="#ef5350"/>
<rect x="354" y="551.2" width="2" height="37.5" fill="#26a69a"/>
<rect x="353" y="560.5" width="5" height="17.5" fill="#26a69a"/>
<rect x="360" y="552.5" width="2" height="25.0" fill="#ef5350"/>
<rect x="358" y="560.5" width="6" height="9.0" fill="#ef5350"/>
<rect x="365" y="556.2" width="2" height="31.8" fill="#ef5350"/>
<rect x="364" y="569.2" width="5" height="2.0" fill="#ef5350"/>
<rect x="371" y="527.0" width="2" height="45.0" fill="#26a69a"/>
<rect x="369" y="540.5" width="6" height="30.8" fill="#26a69a"/>
<rect x="376" y="521.2" width="2" height="20.0" fill="#26a69a"/>
<rect x="375" y="534.5" width="5" height="6.0" fill="#26a69a"/>
<rect x="381" y="533.8" width="2" height="16.2" fill="#ef5350"/>
<rect x="380" y="534.5" width="5" height="14.2" fill="#ef5350"/>
<rect x="387" y="542.0" width="2" height="28.5" fill="#ef5350"/>
<rect x="385" y="548.0" width="6" height="22.0" fill="#ef5350"/>
<rect x="392" y="557.5" width="2" height="22.0" fill="#26a69a"/>
<rect x="391" y="563.0" width="5" height="7.0" fill="#26a69a"/>
<rect x="398" y="534.5" width="2" height="46.8" fill="#26a69a"/>
<rect x="396" y="535.0" width="6" height="28.8" fill="#26a69a"/>
<rect x="403" y="523.2" width="2" height="25.5" fill="#26a69a"/>
<rect x="402" y="532.5" width="5" height="3.0" fill="#26a69a"/>
<rect x="409" y="436.2" width="2" height="96.8" fill="#26a69a"/>
<rect x="407" y="448.0" width="6" height="84.5" fill="#26a69a"/>
<rect x="414" y="434.5" width="2" height="26.0" fill="#ef5350"/>
<rect x="413" y="448.0" width="5" height="5.0" fill="#ef5350"/>
<rect x="419" y="425.0" width="2" height="28.8" fill="#26a69a"/>
<rect x="418" y="427.0" width="5" height="25.5" fill="#26a69a"/>
<rect x="425" y="426.2" width="2" height="20.0" fill="#ef5350"/>
<rect x="423" y="427.0" width="6" height="10.0" fill="#ef5350"/>
<rect x="430" y="414.2" width="2" height="68.2" fill="#ef5350"/>
<rect x="429" y="437.0" width="5" height="18.5" fill="#ef5350"/>
<rect x="436" y="425.5" width="2" height="47.0" fill="#26a69a"/>
<rect x="434" y="437.0" width="6" height="18.5" fill="#26a69a"/>
<rect x="441" y="434.5" width="2" height="21.8" fill="#ef5350"/>
<rect x="440" y="437.0" width="5" height="9.2" fill="#ef5350"/>
<rect x="447" y="436.2" width="2" height="37.0" fill="#26a69a"/>
<rect x="445" y="442.5" width="6" height="3.8" fill="#26a69a"/>
<rect x="452" y="431.2" width="2" height="18.8" fill="#ef5350"/>
<rect x="451" y="442.5" width="5" height="3.8" fill="#ef5350"/>
<rect x="458" y="442.0" width="2" height="14.2" fill="#ef5350"/>
<rect x="456" y="446.2" width="6" height="4.2" fill="#ef5350"/>
<rect x="463" y="403.0" width="2" height="47.5" fill="#26a69a"/>
<rect x="462" y="405.0" width="5" height="45.5" fill="#26a69a"/>
<rect x="468" y="396.2" width="2" height="68.2" fill="#ef5350"/>
<rect x="467" y="405.0" width="5" height="12.5" fill="#ef5350"/>
<rect x="474" y="394.5" width="2" height="41.0" fill="#26a69a"/>
<rect x="472" y="400.8" width="6" height="16.8" fill="#26a69a"/>
<rect x="479" y="347.0" width="2" height="62.5" fill="#26a69a"/>
<rect x="478" y="362.5" width="5" height="38.2" fill="#26a69a"/>
<rect x="485" y="331.2" width="2" height="36.8" fill="#26a69a"/>
<rect x="483" y="335.0" width="6" height="27.5" fill="#26a69a"/>
<rect x="490" y="333.0" width="2" height="67.5" fill="#ef5350"/>
<rect x="489" y="335.0" width="5" height="59.5" fill="#ef5350"/>
<rect x="496" y="364.5" width="2" height="35.0" fill="#26a69a"/>
<rect x="494" y="388.0" width="6" height="6.5" fill="#26a69a"/>
<rect x="501" y="367.5" width="2" height="35.0" fill="#26a69a"/>
<rect x="500" y="371.2" width="5" height="16.8" fill="#26a69a"/>
<rect x="506" y="352.0" width="2" height="22.5" fill="#26a69a"/>
<rect x="505" y="365.5" width="5" height="7.0" fill="#26a69a"/>
<rect x="512" y="348.2" width="2" height="42.2" fill="#ef5350"/>
<rect x="510" y="365.5" width="6" height="7.0" fill="#ef5350"/>
<rect x="517" y="367.5" width="2" height="33.0" fill="#ef5350"/>
<rect x="516" y="372.5" width="5" height="15.0" fill="#ef5350"/>
<rect x="523" y="372.5" width="2" height="47.5" fill="#ef5350"/>
<rect x="521" y="387.5" width="6" height="30.0" fill="#ef5350"/>
<rect x="528" y="407.5" width="2" height="35.5" fill="#ef5350"/>
<rect x="527" y="417.5" width="5" height="22.5" fill="#ef5350"/>
<rect x="534" y="426.2" width="2" height="24.2" fill="#26a69a"/>
<rect x="532" y="430.0" width="6" height="9.5" fill="#26a69a"/>
<rect x="539" y="413.0" width="2" height="28.2" fill="#26a69a"/>
<rect x="538" y="414.5" width="5" height="16.0" fill="#26a69a"/>
<rect x="544" y="412.0" width="2" height="30.5" fill="#26a69a"/>
<rect x="543" y="413.0" width="5" height="2.5" fill="#26a69a"/>
<rect x="550" y="401.2" width="2" height="25.0" fill="#ef5350"/>
<rect x="548" y="413.0" width="6" height="7.0" fill="#ef5350"/>
<rect x="555" y="411.2" width="2" height="24.2" fill="#ef5350"/>
<rect x="554" y="420.0" width="5" height="9.5" fill="#ef5350"/>
<rect x="561" y="413.0" width="2" height="73.2" fill="#ef5350"/>
<rect x="559" y="429.5" width="6" height="43.0" fill="#ef5350"/>
<rect x="566" y="420.0" width="2" height="57.5" fill="#26a69a"/>
<rect x="565" y="434.5" width="5" height="38.0" fill="#26a69a"/>
<rect x="572" y="413.0" width="2" height="27.0" fill="#26a69a"/>
<rect x="570" y="417.0" width="6" height="17.5" fill="#26a69a"/>
<rect x="577" y="405.5" width="2" height="19.0" fill="#26a69a"/>
<rect x="576" y="415.0" width="5" height="2.5" fill="#26a69a"/>
<rect x="583" y="350.0" width="2" height="70.5" fill="#26a69a"/>
<rect x="581" y="353.8" width="6" height="61.8" fill="#26a69a"/>
<rect x="588" y="351.8" width="2" height="27.8" fill="#26a69a"/>
<rect x="587" y="352.5" width="5" height="2.0" fill="#26a69a"/>
<rect x="593" y="351.8" width="2" height="32.0" fill="#ef5350"/>
<rect x="592" y="353.8" width="5" height="21.2" fill="#ef5350"/>
<rect x="599" y="374.5" width="2" height="42.5" fill="#ef5350"/>
<rect x="597" y="375.0" width="6" height="41.2" fill="#ef5350"/>
<rect x="604" y="408.8" width="2" height="46.8" fill="#26a69a"/>
<rect x="603" y="410.0" width="5" height="6.2" fill="#26a69a"/>
<rect x="610" y="408.0" width="2" height="25.0" fill="#ef5350"/>
<rect x="608" y="410.0" width="6" height="9.5" fill="#ef5350"/>
<rect x="615" y="410.0" width="2" height="21.2" fill="#26a69a"/>
<rect x="614" y="417.0" width="5" height="2.5" fill="#26a69a"/>
<rect x="621" y="372.5" width="2" height="51.2" fill="#26a69a"/>
<rect x="619" y="400.8" width="6" height="16.2" fill="#26a69a"/>
<rect x="626" y="388.0" width="2" height="59.0" fill="#ef5350"/>
<rect x="625" y="400.8" width="5" height="30.5" fill="#ef5350"/>
<rect x="631" y="417.0" width="2" height="27.5" fill="#26a69a"/>
<rect x="630" y="426.2" width="5" height="5.0" fill="#26a69a"/>
<rect x="637" y="422.0" width="2" height="16.8" fill="#ef5350"/>
<rect x="635" y="426.2" width="6" height="4.2" fill="#ef5350"/>
<rect x="642" y="403.8" width="2" height="56.8" fill="#ef5350"/>
<rect x="641" y="430.5" width="5" height="18.2" fill="#ef5350"/>
<rect x="648" y="439.5" width="2" height="40.5" fill="#ef5350"/>
<rect x="646" y="448.8" width="6" height="15.8" fill="#ef5350"/>
<rect x="653" y="446.2" width="2" height="70.0" fill="#ef5350"/>
<rect x="652" y="464.5" width="5" height="15.0" fill="#ef5350"/>
<rect x="659" y="410.5" width="2" height="85.8" fill="#26a69a"/>
<rect x="657" y="420.0" width="6" height="59.5" fill="#26a69a"/>
<rect x="664" y="408.0" width="2" height="21.5" fill="#26a69a"/>
<rect x="663" y="409.5" width="5" height="10.5" fill="#26a69a"/>
<rect x="669" y="383.0" width="2" height="28.2" fill="#26a69a"/>
<rect x="668" y="393.0" width="5" height="17.5" fill="#26a69a"/>
<rect x="675" y="381.2" width="2" height="22.5" fill="#ef5350"/>
<rect x="673" y="393.0" width="6" height="7.0" fill="#ef5350"/>
<rect x="680" y="388.0" width="2" height="18.2" fill="#26a69a"/>
<rect x="679" y="396.2" width="5" height="3.2" fill="#26a69a"/>
<rect x="686" y="390.5" width="2" height="9.0" fill="#26a69a"/>
<rect x="684" y="393.8" width="6" height="3.2" fill="#26a69a"/>
<rect x="691" y="377.0" width="2" height="18.5" fill="#26a69a"/>
<rect x="690" y="380.0" width="5" height="14.5" fill="#26a69a"/>
<rect x="697" y="374.2" width="2" height="27.0" fill="#ef5350"/>
<rect x="695" y="380.0" width="6" height="16.2" fill="#ef5350"/>
<rect x="702" y="391.2" width="2" height="30.0" fill="#ef5350"/>
<rect x="701" y="396.2" width="5" height="20.0" fill="#ef5350"/>
<rect x="707" y="361.2" width="2" height="61.8" fill="#26a69a"/>
<rect x="706" y="373.0" width="5" height="43.2" fill="#26a69a"/>
<rect x="713" y="350.5" width="2" height="25.8" fill="#26a69a"/>
<rect x="711" y="363.2" width="6" height="9.8" fill="#26a69a"/>
<rect x="718" y="361.2" width="2" height="33.2" fill="#ef5350"/>
<rect x="717" y="363.2" width="5" height="22.2" fill="#ef5350"/>
<rect x="724" y="379.5" width="2" height="8.0" fill="#26a69a"/>
<rect x="722" y="380.0" width="6" height="5.5" fill="#26a69a"/>
<rect x="729" y="362.5" width="2" height="23.8" fill="#26a69a"/>
<rect x="728" y="368.0" width="5" height="12.5" fill="#26a69a"/>
<rect x="735" y="362.0" width="2" height="28.5" fill="#ef5350"/>
<rect x="733" y="368.0" width="6" height="13.8" fill="#ef5350"/>
<rect x="740" y="367.0" width="2" height="24.2" fill="#26a69a"/>
<rect x="739" y="372.5" width="5" height="9.2" fill="#26a69a"/>
<rect x="746" y="331.2" width="2" height="48.2" fill="#26a69a"/>
<rect x="744" y="341.2" width="6" height="31.2" fill="#26a69a"/>
<rect x="751" y="265.5" width="2" height="85.0" fill="#26a69a"/>
<rect x="750" y="277.5" width="5" height="63.8" fill="#26a69a"/>
<rect x="756" y="238.0" width="2" height="48.2" fill="#26a69a"/>
<rect x="755" y="256.2" width="5" height="21.2" fill="#26a69a"/>
<rect x="762" y="247.0" width="2" height="17.5" fill="#ef5350"/>
<rect x="760" y="255.0" width="6" height="2.5" fill="#ef5350"/>
<rect x="767" y="230.0" width="2" height="29.5" fill="#26a69a"/>
<rect x="766" y="235.0" width="5" height="23.0" fill="#26a69a"/>
<rect x="773" y="179.2" width="2" height="58.2" fill="#26a69a"/>
<rect x="771" y="225.0" width="6" height="10.5" fill="#26a69a"/>
<rect x="778" y="223.8" width="2" height="55.8" fill="#ef5350"/>
<rect x="777" y="225.0" width="5" height="28.0" fill="#ef5350"/>
<rect x="784" y="222.5" width="2" height="40.0" fill="#26a69a"/>
<rect x="782" y="241.2" width="6" height="11.8" fill="#26a69a"/>
<rect x="789" y="209.2" width="2" height="48.2" fill="#26a69a"/>
<rect x="788" y="234.5" width="5" height="6.8" fill="#26a69a"/>
<rect x="794" y="212.0" width="2" height="53.5" fill="#ef5350"/>
<rect x="793" y="234.5" width="5" height="16.8" fill="#ef5350"/>
<rect x="800" y="243.8" width="2" height="14.2" fill="#ef5350"/>
<rect x="798" y="250.0" width="6" height="2.0" fill="#ef5350"/>
<rect x="805" y="238.0" width="2" height="31.5" fill="#ef5350"/>
<rect x="804" y="252.0" width="5" height="8.5" fill="#ef5350"/>
<rect x="811" y="227.0" width="2" height="42.5" fill="#26a69a"/>
<rect x="809" y="257.5" width="6" height="3.0" fill="#26a69a"/>
<rect x="816" y="218.8" width="2" height="55.8" fill="#26a69a"/>
<rect x="815" y="223.0" width="5" height="35.0" fill="#26a69a"/>
<rect x="822" y="222.0" width="2" height="36.8" fill="#ef5350"/>
<rect x="820" y="223.0" width="6" height="17.5" fill="#ef5350"/>
<rect x="827" y="230.0" width="2" height="31.2" fill="#ef5350"/>
<rect x="826" y="240.5" width="5" height="5.0" fill="#ef5350"/>
<rect x="832" y="243.8" width="2" height="50.0" fill="#ef5350"/>
<rect x="831" y="245.0" width="5" height="10.5" fill="#ef5350"/>
<rect x="838" y="246.2" width="2" height="14.2" fill="#26a69a"/>
<rect x="836" y="251.8" width="6" height="3.8" fill="#26a69a"/>
<rect x="843" y="226.2" width="2" height="26.2" fill="#26a69a"/>
<rect x="842" y="231.2" width="5" height="20.5" fill="#26a69a"/>
<rect x="849" y="225.0" width="2" height="31.2" fill="#ef5350"/>
<rect x="847" y="231.2" width="6" height="18.2" fill="#ef5350"/>
<rect x="854" y="233.0" width="2" height="30.8" fill="#ef5350"/>
<rect x="853" y="248.0" width="5" height="2.0" fill="#ef5350"/>
<rect x="860" y="239.5" width="2" height="39.2" fill="#ef5350"/>
<rect x="858" y="249.5" width="6" height="2.0" fill="#ef5350"/>
<rect x="865" y="237.5" width="2" height="45.5" fill="#ef5350"/>
<rect x="864" y="251.2" width="5" height="30.0" fill="#ef5350"/>
<rect x="871" y="276.2" width="2" height="45.0" fill="#ef5350"/>
<rect x="869" y="280.0" width="6" height="33.8" fill="#ef5350"/>
<rect x="876" y="303.8" width="2" height="27.5" fill="#ef5350"/>
<rect x="875" y="313.8" width="5" height="10.0" fill="#ef5350"/>
<rect x="881" y="293.0" width="2" height="38.2" fill="#26a69a"/>
<rect x="880" y="301.2" width="5" height="22.5" fill="#26a69a"/>
<rect x="887" y="280.5" width="2" height="22.0" fill="#26a69a"/>
<rect x="885" y="288.8" width="6" height="12.5" fill="#26a69a"/>
<rect x="892" y="288.0" width="2" height="34.0" fill="#ef5350"/>
<rect x="891" y="288.8" width="5" height="13.8" fill="#ef5350"/>
<rect x="898" y="280.5" width="2" height="30.8" fill="#26a69a"/>
<rect x="896" y="290.5" width="6" height="12.0" fill="#26a69a"/>
<rect x="903" y="255.0" width="2" height="45.0" fill="#26a69a"/>
<rect x="902" y="256.8" width="5" height="33.8" fill="#26a69a"/>
<rect x="909" y="255.0" width="2" height="22.5" fill="#ef5350"/>
<rect x="907" y="256.8" width="6" height="12.0" fill="#ef5350"/>
<rect x="914" y="250.5" width="2" height="22.5" fill="#ef5350"/>
<rect x="913" y="268.8" width="5" height="2.5" fill="#ef5350"/>
<rect x="919" y="232.0" width="2" height="39.2" fill="#26a69a"/>
<rect x="918" y="232.5" width="5" height="38.0" fill="#26a69a"/>
<rect x="925" y="191.2" width="2" height="57.5" fill="#ef5350"/>
<rect x="923" y="232.5" width="6" height="8.0" fill="#ef5350"/>
<rect x="930" y="218.0" width="2" height="28.2" fill="#26a69a"/>
<rect x="929" y="221.2" width="5" height="19.2" fill="#26a69a"/>
<rect x="936" y="173.0" width="2" height="64.5" fill="#26a69a"/>
<rect x="934" y="178.2" width="6" height="43.0" fill="#26a69a"/>
<rect x="941" y="162.0" width="2" height="98.5" fill="#ef5350"/>
<rect x="940" y="178.2" width="5" height="68.0" fill="#ef5350"/>
<rect x="947" y="233.0" width="2" height="32.5" fill="#ef5350"/>
<rect x="945" y="246.2" width="6" height="13.2" fill="#ef5350"/>
<rect x="952" y="251.2" width="2" height="9.2" fill="#26a69a"/>
<rect x="951" y="257.5" width="5" height="2.0" fill="#26a69a"/>
<rect x="957" y="242.5" width="2" height="18.0" fill="#26a69a"/>
<rect x="956" y="257.5" width="5" height="2.0" fill="#26a69a"/>
<rect x="963" y="256.2" width="2" height="38.2" fill="#ef5350"/>
<rect x="961" y="257.5" width="6" height="17.5" fill="#ef5350"/>
<rect x="968" y="267.0" width="2" height="54.2" fill="#ef5350"/>
<rect x="967" y="274.5" width="5" height="45.5" fill="#ef5350"/>
<rect x="974" y="295.0" width="2" height="30.0" fill="#26a69a"/>
<rect x="972" y="300.0" width="6" height="20.0" fill="#26a69a"/>
<rect x="979" y="293.0" width="2" height="36.5" fill="#ef5350"/>
<rect x="978" y="300.0" width="5" height="24.5" fill="#ef5350"/>
<rect x="985" y="257.0" width="2" height="78.0" fill="#26a69a"/>
<rect x="983" y="264.2" width="6" height="60.2" fill="#26a69a"/>
<rect x="990" y="263.0" width="2" height="32.0" fill="#ef5350"/>
<rect x="989" y="264.2" width="5" height="20.2" fill="#ef5350"/>
<rect x="996" y="281.2" width="2" height="66.2" fill="#ef5350"/>
<rect x="994" y="284.5" width="6" height="26.0" fill="#ef5350"/>
<rect x="1001" y="308.0" width="2" height="58.2" fill="#ef5350"/>
<rect x="1000" y="309.5" width="5" height="47.2" fill="#ef5350"/>
<rect x="1006" y="326.2" width="2" height="48.2" fill="#26a69a"/>
<rect x="1005" y="334.5" width="5" height="22.2" fill="#26a69a"/>
<rect x="1012" y="322.5" width="2" height="30.0" fill="#ef5350"/>
<rect x="1010" y="334.5" width="6" height="7.5" fill="#ef5350"/>
<rect x="1017" y="311.2" width="2" height="35.0" fill="#26a69a"/>
<rect x="1016" y="323.0" width="5" height="19.0" fill="#26a69a"/>
<rect x="1023" y="322.0" width="2" height="69.2" fill="#ef5350"/>
<rect x="1021" y="323.0" width="6" height="56.5" fill="#ef5350"/>
<rect x="1028" y="372.0" width="2" height="20.5" fill="#26a69a"/>
<rect x="1027" y="373.0" width="5" height="6.5" fill="#26a69a"/>
<rect x="1034" y="365.5" width="2" height="17.5" fill="#ef5350"/>
<rect x="1032" y="373.0" width="6" height="9.0" fill="#ef5350"/>
<rect x="1039" y="359.5" width="2" height="35.0" fill="#26a69a"/>
<rect x="1038" y="368.8" width="5" height="13.2" fill="#26a69a"/>
<rect x="1044" y="334.5" width="2" height="44.2" fill="#26a69a"/>
<rect x="1043" y="341.2" width="5" height="27.5" fill="#26a69a"/>
<rect x="1050" y="323.0" width="2" height="27.0" fill="#26a69a"/>
<rect x="1048" y="335.5" width="6" height="5.8" fill="#26a69a"/>
<rect x="1055" y="328.8" width="2" height="37.5" fill="#ef5350"/>
<rect x="1054" y="335.5" width="5" height="13.2" fill="#ef5350"/>
<rect x="1061" y="312.5" width="2" height="42.5" fill="#ef5350"/>
<rect x="1059" y="347.5" width="6" height="2.0" fill="#ef5350"/>
<rect x="1066" y="340.5" width="2" height="17.0" fill="#ef5350"/>
<rect x="1065" y="349.5" width="5" height="6.8" fill="#ef5350"/>
<rect x="1072" y="336.2" width="2" height="20.0" fill="#26a69a"/>
<rect x="1070" y="342.5" width="6" height="13.2" fill="#26a69a"/>
<rect x="1077" y="318.8" width="2" height="30.0" fill="#26a69a"/>
<rect x="1076" y="330.0" width="5" height="12.5" fill="#26a69a"/>
<rect x="1082" y="313.8" width="2" height="32.5" fill="#ef5350"/>
<rect x="1081" y="330.0" width="5" height="7.5" fill="#ef5350"/>
<rect x="1088" y="299.5" width="2" height="45.0" fill="#26a69a"/>
<rect x="1086" y="304.5" width="6" height="33.0" fill="#26a69a"/>
<rect x="1093" y="283.0" width="2" height="27.0" fill="#26a69a"/>
<rect x="1092" y="284.5" width="5" height="20.0" fill="#26a69a"/>
<rect x="1099" y="268.8" width="2" height="18.8" fill="#26a69a"/>
<rect x="1097" y="276.2" width="6" height="8.2" fill="#26a69a"/>
<rect x="1104" y="273.0" width="2" height="14.0" fill="#ef5350"/>
<rect x="1103" y="276.2" width="5" height="2.5" fill="#ef5350"/>
<rect x="1110" y="274.5" width="2" height="13.5" fill="#ef5350"/>
<rect x="1108" y="278.0" width="6" height="9.5" fill="#ef5350"/>
<rect x="1115" y="266.2" width="2" height="30.8" fill="#26a69a"/>
<rect x="1114" y="284.2" width="5" height="3.2" fill="#26a69a"/>
<rect x="1120" y="264.5" width="2" height="28.5" fill="#26a69a"/>
<rect x="1119" y="266.2" width="5" height="18.8" fill="#26a69a"/>
<rect x="1126" y="259.5" width="2" height="34.2" fill="#ef5350"/>
<rect x="1124" y="266.2" width="6" height="5.8" fill="#ef5350"/>
<rect x="1131" y="251.2" width="2" height="23.2" fill="#26a69a"/>
<rect x="1130" y="262.5" width="5" height="9.5" fill="#26a69a"/>
<rect x="1137" y="257.5" width="2" height="31.2" fill="#ef5350"/>
<rect x="1135" y="262.5" width="6" height="20.5" fill="#ef5350"/>
<rect x="1142" y="275.5" width="2" height="9.0" fill="#26a69a"/>
<rect x="1141" y="280.0" width="5" height="3.0" fill="#26a69a"/>
<rect x="1148" y="278.8" width="2" height="9.2" fill="#ef5350"/>
<rect x="1146" y="280.0" width="6" height="7.0" fill="#ef5350"/>
<rect x="1153" y="285.0" width="2" height="47.5" fill="#ef5350"/>
<rect x="1152" y="287.0" width="5" height="35.5" fill="#ef5350"/>
<rect x="1159" y="313.8" width="2" height="23.8" fill="#ef5350"/>
<rect x="1157" y="322.5" width="6" height="8.8" fill="#ef5350"/>
<rect x="1164" y="304.5" width="2" height="38.0" fill="#26a69a"/>
<rect x="1163" y="313.8" width="5" height="17.5" fill="#26a69a"/>
<rect x="1169" y="310.0" width="2" height="65.5" fill="#ef5350"/>
<rect x="1168" y="313.8" width="5" height="58.2" fill="#ef5350"/>
<rect x="1175" y="353.2" width="2" height="22.2" fill="#26a69a"/>
<rect x="1173" y="362.0" width="6" height="10.0" fill="#26a69a"/>
<rect x="1180" y="361.2" width="2" height="6.2" fill="#ef5350"/>
<rect x="1179" y="362.0" width="5" height="2.0" fill="#ef5350"/>
<rect x="1186" y="326.2" width="2" height="41.2" fill="#26a69a"/>
<rect x="1184" y="328.0" width="6" height="35.0" fill="#26a69a"/>
<rect x="1191" y="298.0" width="2" height="37.5" fill="#26a69a"/>
<rect x="1190" y="299.5" width="5" height="29.2" fill="#26a69a"/>
<rect x="1197" y="293.0" width="2" height="29.0" fill="#ef5350"/>
<rect x="1195" y="299.5" width="6" height="4.2" fill="#ef5350"/>
<rect x="1202" y="241.2" width="2" height="63.8" fill="#26a69a"/>
<rect x="1201" y="242.5" width="5" height="61.2" fill="#26a69a"/>
<rect x="1207" y="209.5" width="2" height="36.0" fill="#26a69a"/>
<rect x="1206" y="216.2" width="5" height="26.8" fill="#26a69a"/>
<rect x="1213" y="170.0" width="2" height="62.0" fill="#26a69a"/>
<rect x="1211" y="193.0" width="6" height="23.2" fill="#26a69a"/>
<rect x="1218" y="185.5" width="2" height="15.8" fill="#26a69a"/>
<rect x="1217" y="190.0" width="5" height="3.8" fill="#26a69a"/>
<rect x="1224" y="146.2" width="2" height="46.8" fill="#26a69a"/>
<rect x="1222" y="176.2" width="6" height="15.8" fill="#26a69a"/>
<rect x="1229" y="139.2" width="2" height="40.8" fill="#26a69a"/>
<rect x="1228" y="160.0" width="5" height="17.0" fill="#26a69a"/>
<rect x="1235" y="154.2" width="2" height="60.2" fill="#ef5350"/>
<rect x="1233" y="160.0" width="6" height="45.5" fill="#ef5350"/>
<rect x="1240" y="166.2" width="2" height="41.2" fill="#26a69a"/>
<rect x="1239" y="178.8" width="5" height="26.8" fill="#26a69a"/>
<rect x="1245" y="172.5" width="2" height="53.8" fill="#ef5350"/>
<rect x="1244" y="178.8" width="5" height="21.8" fill="#ef5350"/>
<rect x="1251" y="188.0" width="2" height="276.5" fill="#ef5350"/>
<rect x="1249" y="200.5" width="6" height="120.0" fill="#ef5350"/>
<rect x="1256" y="313.0" width="2" height="49.5" fill="#ef5350"/>
<rect x="1255" y="320.5" width="5" height="29.0" fill="#ef5350"/>
<rect x="1262" y="280.0" width="2" height="82.5" fill="#26a69a"/>
<rect x="1260" y="291.2" width="6" height="58.2" fill="#26a69a"/>
<rect x="1267" y="277.0" width="2" height="31.8" fill="#26a69a"/>
<rect x="1266" y="288.0" width="5" height="4.0" fill="#26a69a"/>
<rect x="1273" y="285.0" width="2" height="73.8" fill="#ef5350"/>
<rect x="1271" y="288.0" width="6" height="29.5" fill="#ef5350"/>
<rect x="1278" y="308.8" width="2" height="46.2" fill="#ef5350"/>
<rect x="1277" y="317.5" width="5" height="30.0" fill="#ef5350"/>
<rect x="1284" y="331.2" width="2" height="60.8" fill="#ef5350"/>
<rect x="1282" y="347.5" width="6" height="35.0" fill="#ef5350"/>
<rect x="1289" y="367.5" width="2" height="77.0" fill="#ef5350"/>
<rect x="1288" y="382.5" width="5" height="23.8" fill="#ef5350"/>
<rect x="1294" y="391.2" width="2" height="15.8" fill="#26a69a"/>
<rect x="1293" y="395.5" width="5" height="10.8" fill="#26a69a"/>
<rect x="1300" y="365.0" width="2" height="44.5" fill="#26a69a"/>
<rect x="1298" y="376.2" width="6" height="19.2" fill="#26a69a"/>
<rect x="1305" y="335.5" width="2" height="57.0" fill="#26a69a"/>
<rect x="1304" y="350.0" width="5" height="26.2" fill="#26a69a"/>
<rect x="1311" y="304.5" width="2" height="86.8" fill="#ef5350"/>
<rect x="1309" y="350.0" width="6" height="30.0" fill="#ef5350"/>
<rect x="1316" y="369.5" width="2" height="31.8" fill="#ef5350"/>
<rect x="1315" y="380.0" width="5" height="10.0" fill="#ef5350"/>
<rect x="1322" y="340.5" width="2" height="50.0" fill="#26a69a"/>
<rect x="1320" y="356.2" width="6" height="33.8" fill="#26a69a"/>
<rect x="1327" y="329.5" width="2" height="31.8" fill="#26a69a"/>
<rect x="1326" y="343.8" width="5" height="12.5" fill="#26a69a"/>
<rect x="1332" y="332.0" width="2" height="15.5" fill="#26a69a"/>
<rect x="1331" y="335.0" width="5" height="9.5" fill="#26a69a"/>
<rect x="1338" y="284.5" width="2" height="56.0" fill="#26a69a"/>
<rect x="1336" y="296.2" width="6" height="39.2" fill="#26a69a"/>
<rect x="1343" y="271.2" width="2" height="33.8" fill="#ef5350"/>
<rect x="1342" y="296.2" width="5" height="6.2" fill="#ef5350"/>
<rect x="1349" y="275.5" width="2" height="52.0" fill="#ef5350"/>
<rect x="1347" y="302.5" width="6" height="15.5" fill="#ef5350"/>
<rect x="1354" y="308.8" width="2" height="58.8" fill="#ef5350"/>
<rect x="1353" y="318.0" width="5" height="39.5" fill="#ef5350"/>
<rect x="1360" y="336.2" width="2" height="70.0" fill="#ef5350"/>
<rect x="1358" y="357.5" width="6" height="23.0" fill="#ef5350"/>
<rect x="1365" y="341.2" width="2" height="40.0" fill="#26a69a"/>
<rect x="1364" y="363.0" width="5" height="17.5" fill="#26a69a"/>
<rect x="1370" y="350.5" width="2" height="15.0" fill="#26a69a"/>
<rect x="1369" y="356.8" width="5" height="7.0" fill="#26a69a"/>
<rect x="1376" y="341.2" width="2" height="23.2" fill="#26a69a"/>
<rect x="1374" y="350.0" width="6" height="6.8" fill="#26a69a"/>
<rect x="1381" y="347.5" width="2" height="73.0" fill="#ef5350"/>
<rect x="1380" y="350.0" width="5" height="54.5" fill="#ef5350"/>
<rect x="1387" y="394.5" width="2" height="111.8" fill="#ef5350"/>
<rect x="1385" y="404.5" width="6" height="68.0" fill="#ef5350"/>
<rect x="1392" y="431.2" width="2" height="74.2" fill="#26a69a"/>
<rect x="1391" y="440.0" width="5" height="32.5" fill="#26a69a"/>
<rect x="1398" y="436.2" width="2" height="51.8" fill="#ef5350"/>
<rect x="1396" y="440.0" width="6" height="34.5" fill="#ef5350"/>
<rect x="1403" y="437.5" width="2" height="63.8" fill="#26a69a"/>
<rect x="1402" y="447.0" width="5" height="27.5" fill="#26a69a"/>
<rect x="1409" y="445.5" width="2" height="24.0" fill="#ef5350"/>
<rect x="1407" y="447.0" width="6" height="14.2" fill="#ef5350"/>
<rect x="1414" y="418.0" width="2" height="54.5" fill="#26a69a"/>
<rect x="1413" y="428.8" width="5" height="32.5" fill="#26a69a"/>
<rect x="1419" y="402.0" width="2" height="32.5" fill="#26a69a"/>
<rect x="1418" y="411.2" width="5" height="18.2" fill="#26a69a"/>
<rect x="1425" y="391.2" width="2" height="67.5" fill="#ef5350"/>
<rect x="1423" y="411.2" width="6" height="40.0" fill="#ef5350"/>
<rect x="1430" y="420.0" width="2" height="60.0" fill="#ef5350"/>
<rect x="1429" y="451.2" width="5" height="19.2" fill="#ef5350"/>
<rect x="1436" y="437.0" width="2" height="81.8" fill="#ef5350"/>
<rect x="1434" y="470.5" width="6" height="27.0" fill="#ef5350"/>
<rect x="1441" y="493.8" width="2" height="78.8" fill="#ef5350"/>
<rect x="1440" y="496.2" width="5" height="69.2" fill="#ef5350"/>
<rect x="1447" y="535.0" width="2" height="31.2" fill="#26a69a"/>
<rect x="1445" y="552.5" width="6" height="13.0" fill="#26a69a"/>
<rect x="1452" y="538.0" width="2" height="49.0" fill="#ef5350"/>
<rect x="1451" y="552.5" width="5" height="17.5" fill="#ef5350"/>
<rect x="1457" y="546.2" width="2" height="63.8" fill="#ef5350"/>
<rect x="1456" y="570.0" width="5" height="26.2" fill="#ef5350"/>
<rect x="1463" y="575.0" width="2" height="61.2" fill="#26a69a"/>
<rect x="1461" y="587.5" width="6" height="8.8" fill="#26a69a"/>
<rect x="1468" y="584.5" width="2" height="61.0" fill="#ef5350"/>
<rect x="1467" y="587.5" width="5" height="18.8" fill="#ef5350"/>
<rect x="1474" y="584.5" width="2" height="95.0" fill="#ef5350"/>
<rect x="1472" y="606.2" width="6" height="66.2" fill="#ef5350"/>
<rect x="1479" y="661.2" width="2" height="92.5" fill="#ef5350"/>
<rect x="1478" y="672.5" width="5" height="20.5" fill="#ef5350"/>
<rect x="1485" y="686.2" width="2" height="28.2" fill="#ef5350"/>
<rect x="1483" y="693.0" width="6" height="5.8" fill="#ef5350"/>
<rect x="1490" y="652.5" width="2" height="46.2" fill="#26a69a"/>
<rect x="1489" y="670.0" width="5" height="28.8" fill="#26a69a"/>
<rect x="1495" y="637.5" width="2" height="53.0" fill="#26a69a"/>
<rect x="1494" y="650.0" width="5" height="20.0" fill="#26a69a"/>
<rect x="1501" y="647.0" width="2" height="31.0" fill="#ef5350"/>
<rect x="1499" y="650.0" width="6" height="13.8" fill="#ef5350"/>
<rect x="1506" y="618.0" width="2" height="58.2" fill="#26a69a"/>
<rect x="1505" y="621.2" width="5" height="42.5" fill="#26a69a"/>
<rect x="1512" y="602.0" width="2" height="23.0" fill="#26a69a"/>
<rect x="1510" y="609.5" width="6" height="11.8" fill="#26a69a"/>
<rect x="1517" y="585.0" width="2" height="39.5" fill="#ef5350"/>
<rect x="1516" y="609.5" width="5" height="5.5" fill="#ef5350"/>
<rect x="1523" y="611.2" width="2" height="13.2" fill="#ef5350"/>
<rect x="1521" y="613.8" width="6" height="2.5" fill="#ef5350"/>
<rect x="1528" y="600.0" width="2" height="23.8" fill="#ef5350"/>
<rect x="1527" y="616.2" width="5" height="5.8" fill="#ef5350"/>
<rect x="1533" y="620.5" width="2" height="89.0" fill="#ef5350"/>
<rect x="1532" y="622.0" width="5" height="55.5" fill="#ef5350"/>
<rect x="1539" y="596.2" width="2" height="81.8" fill="#26a69a"/>
<rect x="1537" y="610.0" width="6" height="67.5" fill="#26a69a"/>
<rect x="1544" y="571.2" width="2" height="41.8" fill="#26a69a"/>
<rect x="1543" y="581.2" width="5" height="29.2" fill="#26a69a"/>
<rect x="1550" y="572.5" width="2" height="40.0" fill="#ef5350"/>
<rect x="1548" y="581.2" width="6" height="18.8" fill="#ef5350"/>
<rect x="1555" y="591.2" width="2" height="61.2" fill="#ef5350"/>
<rect x="1554" y="600.0" width="5" height="36.2" fill="#ef5350"/>
<rect x="1561" y="623.8" width="2" height="17.5" fill="#ef5350"/>
<rect x="1559" y="635.0" width="6" height="2.5" fill="#ef5350"/>
<rect x="1566" y="603.8" width="2" height="53.8" fill="#26a69a"/>
<rect x="1565" y="622.5" width="5" height="15.0" fill="#26a69a"/>
<rect x="1572" y="596.2" width="2" height="35.0" fill="#26a69a"/>
<rect x="1570" y="619.5" width="6" height="3.5" fill="#26a69a"/>
<rect x="1577" y="565.5" width="2" height="67.5" fill="#26a69a"/>
<rect x="1576" y="590.0" width="5" height="29.5" fill="#26a69a"/>
<rect x="1582" y="567.5" width="2" height="37.5" fill="#ef5350"/>
<rect x="1581" y="590.0" width="5" height="10.0" fill="#ef5350"/>
<rect x="1588" y="580.0" width="2" height="56.2" fill="#26a69a"/>
<rect x="1586" y="592.5" width="6" height="7.5" fill="#26a69a"/>
<rect x="1593" y="590.0" width="2" height="43.0" fill="#ef5350"/>
<rect x="1592" y="592.5" width="5" height="30.5" fill="#ef5350"/>
<rect x="1599" y="619.5" width="2" height="10.0" fill="#ef5350"/>
<rect x="1597" y="622.0" width="6" height="2.5" fill="#ef5350"/>
<rect x="1604" y="621.2" width="2" height="38.2" fill="#ef5350"/>
<rect x="1603" y="624.5" width="5" height="28.0" fill="#ef5350"/>
<rect x="1610" y="626.2" width="2" height="65.0" fill="#ef5350"/>
<rect x="1608" y="652.5" width="6" height="23.0" fill="#ef5350"/>
<rect x="1615" y="652.5" width="2" height="38.0" fill="#26a69a"/>
<rect x="1614" y="656.2" width="5" height="19.2" fill="#26a69a"/>
<rect x="1620" y="622.5" width="2" height="67.0" fill="#ef5350"/>
<rect x="1619" y="656.2" width="5" height="22.5" fill="#ef5350"/>
<rect x="1626" y="635.0" width="2" height="66.2" fill="#ef5350"/>
<rect x="1624" y="678.8" width="6" height="8.8" fill="#ef5350"/>
<rect x="1631" y="635.5" width="2" height="57.0" fill="#26a69a"/>
<rect x="1630" y="652.5" width="5" height="35.0" fill="#26a69a"/>
<rect x="1637" y="646.2" width="2" height="10.0" fill="#26a69a"/>
<rect x="1635" y="648.0" width="6" height="4.5" fill="#26a69a"/>
<rect x="1642" y="639.5" width="2" height="18.0" fill="#26a69a"/>
<rect x="1641" y="645.5" width="5" height="3.2" fill="#26a69a"/>
<rect x="1648" y="619.5" width="2" height="33.5" fill="#ef5350"/>
<rect x="1646" y="644.5" width="6" height="2.0" fill="#ef5350"/>
<rect x="1653" y="641.2" width="2" height="31.2" fill="#ef5350"/>
<rect x="1652" y="645.5" width="5" height="15.8" fill="#ef5350"/>
<rect x="1658" y="653.0" width="2" height="21.5" fill="#26a69a"/>
<rect x="1657" y="658.8" width="5" height="2.5" fill="#26a69a"/>
<rect x="1664" y="646.2" width="2" height="21.2" fill="#ef5350"/>
<rect x="1662" y="658.8" width="6" height="5.8" fill="#ef5350"/>
<rect x="1669" y="633.0" width="2" height="38.2" fill="#26a69a"/>
<rect x="1668" y="662.0" width="5" height="2.0" fill="#26a69a"/>
<rect x="1675" y="654.5" width="2" height="9.2" fill="#26a69a"/>
<rect x="1673" y="656.2" width="6" height="6.2" fill="#26a69a"/>
<rect x="1680" y="653.0" width="2" height="8.2" fill="#26a69a"/>
<rect x="1679" y="654.5" width="5" height="2.5" fill="#26a69a"/>
<rect x="1686" y="622.5" width="2" height="47.0" fill="#ef5350"/>
<rect x="1684" y="655.0" width="6" height="8.8" fill="#ef5350"/>
<rect x="1691" y="635.5" width="2" height="34.0" fill="#26a69a"/>
<rect x="1690" y="647.5" width="5" height="16.2" fill="#26a69a"/>
<rect x="1697" y="638.0" width="2" height="25.8" fill="#ef5350"/>
<rect x="1695" y="647.5" width="6" height="12.0" fill="#ef5350"/>
<rect x="1702" y="642.0" width="2" height="18.0" fill="#26a69a"/>
<rect x="1701" y="643.0" width="5" height="16.5" fill="#26a69a"/>
<rect x="1707" y="614.5" width="2" height="34.2" fill="#26a69a"/>
<rect x="1706" y="627.0" width="5" height="16.0" fill="#26a69a"/>
<rect x="1713" y="617.0" width="2" height="18.0" fill="#26a69a"/>
<rect x="1711" y="618.8" width="6" height="8.8" fill="#26a69a"/>
<rect x="1718" y="603.0" width="2" height="16.5" fill="#26a69a"/>
<rect x="1717" y="604.2" width="5" height="15.0" fill="#26a69a"/>
</g>
<circle cx="1720" cy="880.8" r="21.5" fill="#fff"/>
<circle cx="1720" cy="880.8" r="19.2" fill="#fff" stroke="#9c27b0" stroke-width="3.2"/>
<path d="M1724.7,869.9 L1726.8,871.4 L1720.9,879.6 L1728.8,879.8 L1714.7,892 L1712.8,890.3 L1719.1,882.3 L1710.6,882 Z" fill="#9c27b0"/>
<g clip-path="url(#cr)">
<path d="M20,948 H2116" stroke="#787b86" stroke-opacity="1" stroke-width="2" stroke-dasharray="10 12" fill="none"/>
<path d="M20,1111 H2116" stroke="#787b86" stroke-opacity="0.5" stroke-width="2" stroke-dasharray="10 12" fill="none"/>
<path d="M20,1274 H2116" stroke="#787b86" stroke-opacity="1" stroke-width="2" stroke-dasharray="10 12" fill="none"/>
<g clip-path="url(#c70)"><path d="M18.3,1276.0 L24.0,1330.9 L29.0,1315.9 L35.0,1320.1 L40.0,1267.9 L46.0,1099.8 L51.0,1200.9 L56.0,1183.7 L62.0,1135.4 L67.0,1143.3 L73.0,1179.9 L78.0,1186.6 L84.0,1240.6 L89.0,1258.7 L94.0,1190.0 L100.0,1179.4 L105.0,1205.3 L111.0,1163.4 L116.0,1158.2 L122.0,1178.1 L127.0,1156.0 L132.0,1172.3 L138.0,1111.3 L143.0,1145.1 L149.0,1144.2 L154.0,1150.6 L160.0,1113.8 L165.0,1093.2 L171.0,1094.1 L176.0,1104.4 L181.0,1097.0 L187.0,1145.6 L192.0,1172.2 L198.0,1176.9 L203.0,1171.3 L209.0,1118.2 L214.0,1163.8 L219.0,1148.9 L225.0,1135.0 L230.0,1141.8 L236.0,1220.6 L241.0,1205.0 L247.0,1241.2 L252.0,1123.8 L257.0,1164.1 L263.0,1108.7 L268.0,1084.2 L274.0,1105.7 L279.0,1093.9 L285.0,1108.8 L290.0,1099.6 L295.0,1087.8 L301.0,1098.5 L306.0,1085.7 L312.0,1082.7 L317.0,1044.8 L323.0,967.1 L328.0,964.0 L334.0,960.2 L339.0,953.2 L344.0,959.3 L350.0,979.9 L355.0,961.6 L361.0,981.0 L366.0,983.8 L372.0,949.7 L377.0,943.5 L382.0,977.9 L388.0,1025.3 L393.0,1015.5 L399.0,979.0 L404.0,975.9 L410.0,896.3 L415.0,907.4 L420.0,888.2 L426.0,911.2 L431.0,952.4 L437.0,935.0 L442.0,955.7 L448.0,951.8 L453.0,960.9 L459.0,971.7 L464.0,921.7 L469.0,952.3 L475.0,934.7 L480.0,900.2 L486.0,879.6 L491.0,1001.9 L497.0,995.2 L502.0,978.1 L507.0,972.2 L513.0,986.8 L518.0,1017.8 L524.0,1073.7 L529.0,1110.7 L535.0,1095.0 L540.0,1071.4 L545.0,1069.1 L551.0,1082.7 L556.0,1101.3 L562.0,1172.3 L567.0,1106.9 L573.0,1080.4 L578.0,1077.3 L584.0,998.5 L589.0,997.1 L594.0,1039.7 L600.0,1106.4 L605.0,1097.4 L611.0,1112.2 L616.0,1108.2 L622.0,1081.9 L627.0,1132.2 L632.0,1123.7 L638.0,1130.8 L643.0,1160.3 L649.0,1184.0 L654.0,1205.2 L660.0,1097.9 L665.0,1082.2 L670.0,1058.3 L676.0,1071.1 L681.0,1065.3 L687.0,1061.2 L692.0,1038.6 L698.0,1074.0 L703.0,1113.8 L708.0,1042.6 L714.0,1028.8 L719.0,1073.0 L725.0,1064.3 L730.0,1045.3 L736.0,1074.0 L741.0,1058.3 L747.0,1010.6 L752.0,939.8 L757.0,921.6 L763.0,924.4 L768.0,905.2 L774.0,897.1 L779.0,962.4 L785.0,950.4 L790.0,943.5 L795.0,982.7 L801.0,984.4 L806.0,1005.0 L812.0,1000.6 L817.0,954.7 L823.0,998.0 L828.0,1010.0 L833.0,1034.1 L839.0,1027.8 L844.0,995.1 L850.0,1040.9 L855.0,1042.1 L861.0,1045.4 L866.0,1117.1 L872.0,1176.8 L877.0,1192.9 L882.0,1142.8 L888.0,1117.5 L893.0,1143.1 L899.0,1118.2 L904.0,1056.3 L910.0,1081.3 L915.0,1086.5 L920.0,1022.2 L926.0,1039.9 L931.0,1011.0 L937.0,958.0 L942.0,1084.3 L948.0,1104.0 L953.0,1101.1 L958.0,1101.1 L964.0,1129.7 L969.0,1191.6 L975.0,1157.1 L980.0,1188.0 L986.0,1098.2 L991.0,1124.8 L997.0,1156.2 L1002.0,1204.4 L1007.0,1172.1 L1013.0,1180.1 L1018.0,1152.1 L1024.0,1210.2 L1029.0,1200.4 L1035.0,1209.3 L1040.0,1187.9 L1045.0,1146.0 L1051.0,1137.5 L1056.0,1154.8 L1062.0,1155.8 L1067.0,1165.2 L1073.0,1140.3 L1078.0,1118.3 L1083.0,1130.9 L1089.0,1074.8 L1094.0,1045.2 L1100.0,1033.5 L1105.0,1038.8 L1111.0,1057.9 L1116.0,1052.3 L1121.0,1022.2 L1127.0,1036.4 L1132.0,1020.1 L1138.0,1070.6 L1143.0,1064.8 L1149.0,1082.1 L1154.0,1156.9 L1160.0,1172.5 L1165.0,1132.5 L1170.0,1223.1 L1176.0,1201.5 L1181.0,1204.0 L1187.0,1130.8 L1192.0,1082.6 L1198.0,1090.4 L1203.0,1005.7 L1208.0,977.7 L1214.0,955.3 L1219.0,952.4 L1225.0,939.3 L1230.0,924.4 L1236.0,1017.8 L1241.0,988.8 L1246.0,1027.9 L1252.0,1177.3 L1257.0,1202.3 L1263.0,1134.1 L1268.0,1130.6 L1274.0,1159.2 L1279.0,1186.1 L1285.0,1214.7 L1290.0,1232.7 L1295.0,1217.9 L1301.0,1191.6 L1306.0,1157.4 L1312.0,1186.1 L1317.0,1195.3 L1323.0,1150.3 L1328.0,1134.5 L1333.0,1123.4 L1339.0,1076.6 L1344.0,1085.0 L1350.0,1106.0 L1355.0,1153.8 L1361.0,1178.6 L1366.0,1153.6 L1371.0,1144.6 L1377.0,1134.7 L1382.0,1197.7 L1388.0,1255.8 L1393.0,1208.8 L1399.0,1236.4 L1404.0,1198.6 L1410.0,1210.8 L1415.0,1167.4 L1420.0,1145.5 L1426.0,1184.4 L1431.0,1201.6 L1437.0,1224.4 L1442.0,1272.6 L1448.0,1254.1 L1453.0,1266.1 L1458.0,1283.3 L1464.0,1269.5 L1469.0,1282.5 L1475.0,1321.8 L1480.0,1332.1 L1486.0,1335.0 L1491.0,1286.3 L1496.0,1254.4 L1502.0,1264.7 L1507.0,1200.3 L1513.0,1183.8 L1518.0,1189.3 L1524.0,1190.7 L1529.0,1197.0 L1534.0,1251.2 L1540.0,1152.3 L1545.0,1117.9 L1551.0,1138.4 L1556.0,1174.9 L1562.0,1176.2 L1567.0,1155.4 L1573.0,1151.1 L1578.0,1110.6 L1583.0,1123.7 L1589.0,1113.1 L1594.0,1153.4 L1600.0,1155.3 L1605.0,1189.9 L1611.0,1215.5 L1616.0,1182.0 L1621.0,1207.7 L1627.0,1217.3 L1632.0,1156.8 L1638.0,1149.6 L1643.0,1145.3 L1649.0,1146.5 L1654.0,1169.5 L1659.0,1164.4 L1665.0,1173.8 L1670.0,1168.0 L1676.0,1154.3 L1681.0,1150.0 L1687.0,1169.1 L1692.0,1127.6 L1698.0,1153.5 L1703.0,1113.3 L1708.0,1077.7 L1714.0,1060.4 L1719.0,1031.7 L1719.0,948 L18.3,948 Z" fill="url(#gup)"/></g>
<g clip-path="url(#c30)"><path d="M18.3,1276.0 L24.0,1330.9 L29.0,1315.9 L35.0,1320.1 L40.0,1267.9 L46.0,1099.8 L51.0,1200.9 L56.0,1183.7 L62.0,1135.4 L67.0,1143.3 L73.0,1179.9 L78.0,1186.6 L84.0,1240.6 L89.0,1258.7 L94.0,1190.0 L100.0,1179.4 L105.0,1205.3 L111.0,1163.4 L116.0,1158.2 L122.0,1178.1 L127.0,1156.0 L132.0,1172.3 L138.0,1111.3 L143.0,1145.1 L149.0,1144.2 L154.0,1150.6 L160.0,1113.8 L165.0,1093.2 L171.0,1094.1 L176.0,1104.4 L181.0,1097.0 L187.0,1145.6 L192.0,1172.2 L198.0,1176.9 L203.0,1171.3 L209.0,1118.2 L214.0,1163.8 L219.0,1148.9 L225.0,1135.0 L230.0,1141.8 L236.0,1220.6 L241.0,1205.0 L247.0,1241.2 L252.0,1123.8 L257.0,1164.1 L263.0,1108.7 L268.0,1084.2 L274.0,1105.7 L279.0,1093.9 L285.0,1108.8 L290.0,1099.6 L295.0,1087.8 L301.0,1098.5 L306.0,1085.7 L312.0,1082.7 L317.0,1044.8 L323.0,967.1 L328.0,964.0 L334.0,960.2 L339.0,953.2 L344.0,959.3 L350.0,979.9 L355.0,961.6 L361.0,981.0 L366.0,983.8 L372.0,949.7 L377.0,943.5 L382.0,977.9 L388.0,1025.3 L393.0,1015.5 L399.0,979.0 L404.0,975.9 L410.0,896.3 L415.0,907.4 L420.0,888.2 L426.0,911.2 L431.0,952.4 L437.0,935.0 L442.0,955.7 L448.0,951.8 L453.0,960.9 L459.0,971.7 L464.0,921.7 L469.0,952.3 L475.0,934.7 L480.0,900.2 L486.0,879.6 L491.0,1001.9 L497.0,995.2 L502.0,978.1 L507.0,972.2 L513.0,986.8 L518.0,1017.8 L524.0,1073.7 L529.0,1110.7 L535.0,1095.0 L540.0,1071.4 L545.0,1069.1 L551.0,1082.7 L556.0,1101.3 L562.0,1172.3 L567.0,1106.9 L573.0,1080.4 L578.0,1077.3 L584.0,998.5 L589.0,997.1 L594.0,1039.7 L600.0,1106.4 L605.0,1097.4 L611.0,1112.2 L616.0,1108.2 L622.0,1081.9 L627.0,1132.2 L632.0,1123.7 L638.0,1130.8 L643.0,1160.3 L649.0,1184.0 L654.0,1205.2 L660.0,1097.9 L665.0,1082.2 L670.0,1058.3 L676.0,1071.1 L681.0,1065.3 L687.0,1061.2 L692.0,1038.6 L698.0,1074.0 L703.0,1113.8 L708.0,1042.6 L714.0,1028.8 L719.0,1073.0 L725.0,1064.3 L730.0,1045.3 L736.0,1074.0 L741.0,1058.3 L747.0,1010.6 L752.0,939.8 L757.0,921.6 L763.0,924.4 L768.0,905.2 L774.0,897.1 L779.0,962.4 L785.0,950.4 L790.0,943.5 L795.0,982.7 L801.0,984.4 L806.0,1005.0 L812.0,1000.6 L817.0,954.7 L823.0,998.0 L828.0,1010.0 L833.0,1034.1 L839.0,1027.8 L844.0,995.1 L850.0,1040.9 L855.0,1042.1 L861.0,1045.4 L866.0,1117.1 L872.0,1176.8 L877.0,1192.9 L882.0,1142.8 L888.0,1117.5 L893.0,1143.1 L899.0,1118.2 L904.0,1056.3 L910.0,1081.3 L915.0,1086.5 L920.0,1022.2 L926.0,1039.9 L931.0,1011.0 L937.0,958.0 L942.0,1084.3 L948.0,1104.0 L953.0,1101.1 L958.0,1101.1 L964.0,1129.7 L969.0,1191.6 L975.0,1157.1 L980.0,1188.0 L986.0,1098.2 L991.0,1124.8 L997.0,1156.2 L1002.0,1204.4 L1007.0,1172.1 L1013.0,1180.1 L1018.0,1152.1 L1024.0,1210.2 L1029.0,1200.4 L1035.0,1209.3 L1040.0,1187.9 L1045.0,1146.0 L1051.0,1137.5 L1056.0,1154.8 L1062.0,1155.8 L1067.0,1165.2 L1073.0,1140.3 L1078.0,1118.3 L1083.0,1130.9 L1089.0,1074.8 L1094.0,1045.2 L1100.0,1033.5 L1105.0,1038.8 L1111.0,1057.9 L1116.0,1052.3 L1121.0,1022.2 L1127.0,1036.4 L1132.0,1020.1 L1138.0,1070.6 L1143.0,1064.8 L1149.0,1082.1 L1154.0,1156.9 L1160.0,1172.5 L1165.0,1132.5 L1170.0,1223.1 L1176.0,1201.5 L1181.0,1204.0 L1187.0,1130.8 L1192.0,1082.6 L1198.0,1090.4 L1203.0,1005.7 L1208.0,977.7 L1214.0,955.3 L1219.0,952.4 L1225.0,939.3 L1230.0,924.4 L1236.0,1017.8 L1241.0,988.8 L1246.0,1027.9 L1252.0,1177.3 L1257.0,1202.3 L1263.0,1134.1 L1268.0,1130.6 L1274.0,1159.2 L1279.0,1186.1 L1285.0,1214.7 L1290.0,1232.7 L1295.0,1217.9 L1301.0,1191.6 L1306.0,1157.4 L1312.0,1186.1 L1317.0,1195.3 L1323.0,1150.3 L1328.0,1134.5 L1333.0,1123.4 L1339.0,1076.6 L1344.0,1085.0 L1350.0,1106.0 L1355.0,1153.8 L1361.0,1178.6 L1366.0,1153.6 L1371.0,1144.6 L1377.0,1134.7 L1382.0,1197.7 L1388.0,1255.8 L1393.0,1208.8 L1399.0,1236.4 L1404.0,1198.6 L1410.0,1210.8 L1415.0,1167.4 L1420.0,1145.5 L1426.0,1184.4 L1431.0,1201.6 L1437.0,1224.4 L1442.0,1272.6 L1448.0,1254.1 L1453.0,1266.1 L1458.0,1283.3 L1464.0,1269.5 L1469.0,1282.5 L1475.0,1321.8 L1480.0,1332.1 L1486.0,1335.0 L1491.0,1286.3 L1496.0,1254.4 L1502.0,1264.7 L1507.0,1200.3 L1513.0,1183.8 L1518.0,1189.3 L1524.0,1190.7 L1529.0,1197.0 L1534.0,1251.2 L1540.0,1152.3 L1545.0,1117.9 L1551.0,1138.4 L1556.0,1174.9 L1562.0,1176.2 L1567.0,1155.4 L1573.0,1151.1 L1578.0,1110.6 L1583.0,1123.7 L1589.0,1113.1 L1594.0,1153.4 L1600.0,1155.3 L1605.0,1189.9 L1611.0,1215.5 L1616.0,1182.0 L1621.0,1207.7 L1627.0,1217.3 L1632.0,1156.8 L1638.0,1149.6 L1643.0,1145.3 L1649.0,1146.5 L1654.0,1169.5 L1659.0,1164.4 L1665.0,1173.8 L1670.0,1168.0 L1676.0,1154.3 L1681.0,1150.0 L1687.0,1169.1 L1692.0,1127.6 L1698.0,1153.5 L1703.0,1113.3 L1708.0,1077.7 L1714.0,1060.4 L1719.0,1031.7 L1719.0,1274 L18.3,1274 Z" fill="url(#gdn)"/></g>
<path d="M19.0,1165.0 L20.0,1166.3 L29.8,1186.0 L39.6,1208.4 L46.6,1204.2 L53.6,1206.4 L62.0,1205.6 L70.5,1209.8 L78.9,1215.4 L87.3,1221.8 L93.4,1216.8 L100.0,1207.3 L105.0,1199.4 L111.0,1188.2 L116.0,1180.4 L122.0,1186.0 L127.0,1182.8 L132.0,1181.9 L138.0,1180.2 L143.0,1180.3 L149.0,1177.8 L154.0,1175.2 L160.0,1166.2 L165.0,1154.4 L171.0,1147.5 L176.0,1142.1 L181.0,1134.4 L187.0,1133.1 L192.0,1134.1 L198.0,1134.0 L203.0,1135.1 L209.0,1131.3 L214.0,1135.0 L219.0,1135.3 L225.0,1134.6 L230.0,1134.0 L236.0,1141.6 L241.0,1149.6 L247.0,1160.1 L252.0,1161.5 L257.0,1166.3 L263.0,1163.7 L268.0,1157.4 L274.0,1152.3 L279.0,1146.8 L285.0,1146.1 L290.0,1141.5 L295.0,1137.2 L301.0,1134.6 L306.0,1130.6 L312.0,1120.7 L317.0,1109.3 L323.0,1089.7 L328.0,1078.3 L334.0,1063.7 L339.0,1052.6 L344.0,1043.7 L350.0,1034.7 L355.0,1025.2 L361.0,1016.1 L366.0,1007.8 L372.0,998.0 L377.0,986.9 L382.0,979.2 L388.0,975.1 L393.0,973.0 L399.0,973.8 L404.0,974.7 L410.0,970.1 L415.0,966.9 L420.0,961.8 L426.0,956.9 L431.0,956.2 L437.0,952.9 L442.0,950.9 L448.0,951.1 L453.0,952.3 L459.0,951.9 L464.0,944.5 L469.0,940.0 L475.0,936.8 L480.0,931.4 L486.0,930.2 L491.0,937.0 L497.0,944.6 L502.0,949.4 L507.0,950.8 L513.0,954.5 L518.0,958.9 L524.0,967.6 L529.0,978.3 L535.0,987.2 L540.0,997.8 L545.0,1006.2 L551.0,1016.8 L556.0,1031.1 L562.0,1052.0 L567.0,1059.5 L573.0,1065.6 L578.0,1072.7 L584.0,1074.6 L589.0,1075.3 L594.0,1076.9 L600.0,1079.2 L605.0,1078.3 L611.0,1079.5 L616.0,1082.1 L622.0,1083.0 L627.0,1086.6 L632.0,1088.2 L638.0,1085.2 L643.0,1089.0 L649.0,1096.4 L654.0,1105.5 L660.0,1112.6 L665.0,1118.7 L670.0,1120.0 L676.0,1117.5 L681.0,1115.2 L687.0,1111.6 L692.0,1106.6 L698.0,1106.1 L703.0,1104.7 L708.0,1098.9 L714.0,1091.7 L719.0,1085.4 L725.0,1076.9 L730.0,1065.4 L736.0,1063.7 L741.0,1062.0 L747.0,1058.6 L752.0,1049.2 L757.0,1039.0 L763.0,1029.2 L768.0,1019.7 L774.0,1007.1 L779.0,996.2 L785.0,989.7 L790.0,983.6 L795.0,977.1 L801.0,971.4 L806.0,968.5 L812.0,963.3 L817.0,955.9 L823.0,955.0 L828.0,960.0 L833.0,968.0 L839.0,975.4 L844.0,981.8 L850.0,992.1 L855.0,997.8 L861.0,1004.6 L866.0,1017.0 L872.0,1030.9 L877.0,1045.7 L882.0,1055.6 L888.0,1063.9 L893.0,1077.4 L899.0,1086.0 L904.0,1089.3 L910.0,1092.7 L915.0,1096.8 L920.0,1098.8 L926.0,1098.7 L931.0,1096.5 L937.0,1090.3 L942.0,1087.9 L948.0,1082.7 L953.0,1076.2 L958.0,1073.2 L964.0,1074.1 L969.0,1077.5 L975.0,1080.3 L980.0,1089.7 L986.0,1090.9 L991.0,1093.6 L997.0,1103.2 L1002.0,1115.0 L1007.0,1126.5 L1013.0,1142.3 L1018.0,1147.2 L1024.0,1154.8 L1029.0,1161.9 L1035.0,1169.6 L1040.0,1173.7 L1045.0,1170.5 L1051.0,1169.1 L1056.0,1166.7 L1062.0,1170.8 L1067.0,1173.7 L1073.0,1172.6 L1078.0,1166.4 L1083.0,1163.5 L1089.0,1156.0 L1094.0,1148.3 L1100.0,1135.7 L1105.0,1124.2 L1111.0,1113.3 L1116.0,1103.7 L1121.0,1094.8 L1127.0,1087.6 L1132.0,1078.0 L1138.0,1071.9 L1143.0,1064.7 L1149.0,1060.6 L1154.0,1063.3 L1160.0,1066.3 L1165.0,1070.4 L1170.0,1083.1 L1176.0,1095.1 L1181.0,1106.9 L1187.0,1112.1 L1192.0,1114.3 L1198.0,1119.2 L1203.0,1117.0 L1208.0,1113.9 L1214.0,1105.7 L1219.0,1097.7 L1225.0,1087.5 L1230.0,1070.9 L1236.0,1059.8 L1241.0,1049.6 L1246.0,1035.6 L1252.0,1033.9 L1257.0,1033.8 L1263.0,1034.0 L1268.0,1037.4 L1274.0,1042.3 L1279.0,1055.2 L1285.0,1072.2 L1290.0,1092.0 L1295.0,1110.9 L1301.0,1129.0 L1306.0,1145.6 L1312.0,1157.6 L1317.0,1172.4 L1323.0,1181.1 L1328.0,1178.1 L1333.0,1172.4 L1339.0,1168.3 L1344.0,1165.1 L1350.0,1161.3 L1355.0,1158.9 L1361.0,1156.4 L1366.0,1150.7 L1371.0,1145.5 L1377.0,1141.4 L1382.0,1144.3 L1388.0,1149.3 L1393.0,1150.2 L1399.0,1156.4 L1404.0,1161.0 L1410.0,1167.2 L1415.0,1173.7 L1420.0,1178.0 L1426.0,1183.6 L1431.0,1187.0 L1437.0,1190.3 L1442.0,1198.8 L1448.0,1206.6 L1453.0,1216.0 L1458.0,1222.1 L1464.0,1223.1 L1469.0,1228.4 L1475.0,1234.5 L1480.0,1244.0 L1486.0,1252.9 L1491.0,1261.4 L1496.0,1269.1 L1502.0,1274.9 L1507.0,1274.8 L1513.0,1271.9 L1518.0,1265.9 L1524.0,1261.4 L1529.0,1256.5 L1534.0,1254.2 L1540.0,1245.8 L1545.0,1234.1 L1551.0,1221.0 L1556.0,1209.7 L1562.0,1198.4 L1567.0,1189.0 L1573.0,1181.7 L1578.0,1170.7 L1583.0,1165.2 L1589.0,1160.1 L1594.0,1157.6 L1600.0,1155.0 L1605.0,1154.5 L1611.0,1152.0 L1616.0,1154.1 L1621.0,1160.5 L1627.0,1166.1 L1632.0,1164.8 L1638.0,1163.0 L1643.0,1162.2 L1649.0,1161.9 L1654.0,1166.1 L1659.0,1169.0 L1665.0,1173.4 L1670.0,1174.4 L1676.0,1174.3 L1681.0,1171.5 L1687.0,1168.2 L1692.0,1164.3 L1698.0,1160.4 L1703.0,1153.0 L1708.0,1147.3 L1714.0,1141.0 L1719.0,1132.8" fill="none" stroke="#fdd835" stroke-width="2" stroke-linejoin="round"/>
<path d="M18.3,1276.0 L24.0,1330.9 L29.0,1315.9 L35.0,1320.1 L40.0,1267.9 L46.0,1099.8 L51.0,1200.9 L56.0,1183.7 L62.0,1135.4 L67.0,1143.3 L73.0,1179.9 L78.0,1186.6 L84.0,1240.6 L89.0,1258.7 L94.0,1190.0 L100.0,1179.4 L105.0,1205.3 L111.0,1163.4 L116.0,1158.2 L122.0,1178.1 L127.0,1156.0 L132.0,1172.3 L138.0,1111.3 L143.0,1145.1 L149.0,1144.2 L154.0,1150.6 L160.0,1113.8 L165.0,1093.2 L171.0,1094.1 L176.0,1104.4 L181.0,1097.0 L187.0,1145.6 L192.0,1172.2 L198.0,1176.9 L203.0,1171.3 L209.0,1118.2 L214.0,1163.8 L219.0,1148.9 L225.0,1135.0 L230.0,1141.8 L236.0,1220.6 L241.0,1205.0 L247.0,1241.2 L252.0,1123.8 L257.0,1164.1 L263.0,1108.7 L268.0,1084.2 L274.0,1105.7 L279.0,1093.9 L285.0,1108.8 L290.0,1099.6 L295.0,1087.8 L301.0,1098.5 L306.0,1085.7 L312.0,1082.7 L317.0,1044.8 L323.0,967.1 L328.0,964.0 L334.0,960.2 L339.0,953.2 L344.0,959.3 L350.0,979.9 L355.0,961.6 L361.0,981.0 L366.0,983.8 L372.0,949.7 L377.0,943.5 L382.0,977.9 L388.0,1025.3 L393.0,1015.5 L399.0,979.0 L404.0,975.9 L410.0,896.3 L415.0,907.4 L420.0,888.2 L426.0,911.2 L431.0,952.4 L437.0,935.0 L442.0,955.7 L448.0,951.8 L453.0,960.9 L459.0,971.7 L464.0,921.7 L469.0,952.3 L475.0,934.7 L480.0,900.2 L486.0,879.6 L491.0,1001.9 L497.0,995.2 L502.0,978.1 L507.0,972.2 L513.0,986.8 L518.0,1017.8 L524.0,1073.7 L529.0,1110.7 L535.0,1095.0 L540.0,1071.4 L545.0,1069.1 L551.0,1082.7 L556.0,1101.3 L562.0,1172.3 L567.0,1106.9 L573.0,1080.4 L578.0,1077.3 L584.0,998.5 L589.0,997.1 L594.0,1039.7 L600.0,1106.4 L605.0,1097.4 L611.0,1112.2 L616.0,1108.2 L622.0,1081.9 L627.0,1132.2 L632.0,1123.7 L638.0,1130.8 L643.0,1160.3 L649.0,1184.0 L654.0,1205.2 L660.0,1097.9 L665.0,1082.2 L670.0,1058.3 L676.0,1071.1 L681.0,1065.3 L687.0,1061.2 L692.0,1038.6 L698.0,1074.0 L703.0,1113.8 L708.0,1042.6 L714.0,1028.8 L719.0,1073.0 L725.0,1064.3 L730.0,1045.3 L736.0,1074.0 L741.0,1058.3 L747.0,1010.6 L752.0,939.8 L757.0,921.6 L763.0,924.4 L768.0,905.2 L774.0,897.1 L779.0,962.4 L785.0,950.4 L790.0,943.5 L795.0,982.7 L801.0,984.4 L806.0,1005.0 L812.0,1000.6 L817.0,954.7 L823.0,998.0 L828.0,1010.0 L833.0,1034.1 L839.0,1027.8 L844.0,995.1 L850.0,1040.9 L855.0,1042.1 L861.0,1045.4 L866.0,1117.1 L872.0,1176.8 L877.0,1192.9 L882.0,1142.8 L888.0,1117.5 L893.0,1143.1 L899.0,1118.2 L904.0,1056.3 L910.0,1081.3 L915.0,1086.5 L920.0,1022.2 L926.0,1039.9 L931.0,1011.0 L937.0,958.0 L942.0,1084.3 L948.0,1104.0 L953.0,1101.1 L958.0,1101.1 L964.0,1129.7 L969.0,1191.6 L975.0,1157.1 L980.0,1188.0 L986.0,1098.2 L991.0,1124.8 L997.0,1156.2 L1002.0,1204.4 L1007.0,1172.1 L1013.0,1180.1 L1018.0,1152.1 L1024.0,1210.2 L1029.0,1200.4 L1035.0,1209.3 L1040.0,1187.9 L1045.0,1146.0 L1051.0,1137.5 L1056.0,1154.8 L1062.0,1155.8 L1067.0,1165.2 L1073.0,1140.3 L1078.0,1118.3 L1083.0,1130.9 L1089.0,1074.8 L1094.0,1045.2 L1100.0,1033.5 L1105.0,1038.8 L1111.0,1057.9 L1116.0,1052.3 L1121.0,1022.2 L1127.0,1036.4 L1132.0,1020.1 L1138.0,1070.6 L1143.0,1064.8 L1149.0,1082.1 L1154.0,1156.9 L1160.0,1172.5 L1165.0,1132.5 L1170.0,1223.1 L1176.0,1201.5 L1181.0,1204.0 L1187.0,1130.8 L1192.0,1082.6 L1198.0,1090.4 L1203.0,1005.7 L1208.0,977.7 L1214.0,955.3 L1219.0,952.4 L1225.0,939.3 L1230.0,924.4 L1236.0,1017.8 L1241.0,988.8 L1246.0,1027.9 L1252.0,1177.3 L1257.0,1202.3 L1263.0,1134.1 L1268.0,1130.6 L1274.0,1159.2 L1279.0,1186.1 L1285.0,1214.7 L1290.0,1232.7 L1295.0,1217.9 L1301.0,1191.6 L1306.0,1157.4 L1312.0,1186.1 L1317.0,1195.3 L1323.0,1150.3 L1328.0,1134.5 L1333.0,1123.4 L1339.0,1076.6 L1344.0,1085.0 L1350.0,1106.0 L1355.0,1153.8 L1361.0,1178.6 L1366.0,1153.6 L1371.0,1144.6 L1377.0,1134.7 L1382.0,1197.7 L1388.0,1255.8 L1393.0,1208.8 L1399.0,1236.4 L1404.0,1198.6 L1410.0,1210.8 L1415.0,1167.4 L1420.0,1145.5 L1426.0,1184.4 L1431.0,1201.6 L1437.0,1224.4 L1442.0,1272.6 L1448.0,1254.1 L1453.0,1266.1 L1458.0,1283.3 L1464.0,1269.5 L1469.0,1282.5 L1475.0,1321.8 L1480.0,1332.1 L1486.0,1335.0 L1491.0,1286.3 L1496.0,1254.4 L1502.0,1264.7 L1507.0,1200.3 L1513.0,1183.8 L1518.0,1189.3 L1524.0,1190.7 L1529.0,1197.0 L1534.0,1251.2 L1540.0,1152.3 L1545.0,1117.9 L1551.0,1138.4 L1556.0,1174.9 L1562.0,1176.2 L1567.0,1155.4 L1573.0,1151.1 L1578.0,1110.6 L1583.0,1123.7 L1589.0,1113.1 L1594.0,1153.4 L1600.0,1155.3 L1605.0,1189.9 L1611.0,1215.5 L1616.0,1182.0 L1621.0,1207.7 L1627.0,1217.3 L1632.0,1156.8 L1638.0,1149.6 L1643.0,1145.3 L1649.0,1146.5 L1654.0,1169.5 L1659.0,1164.4 L1665.0,1173.8 L1670.0,1168.0 L1676.0,1154.3 L1681.0,1150.0 L1687.0,1169.1 L1692.0,1127.6 L1698.0,1153.5 L1703.0,1113.3 L1708.0,1077.7 L1714.0,1060.4 L1719.0,1031.7" fill="none" stroke="#7e57c2" stroke-width="2" stroke-linejoin="round"/>
</g>
<rect x="19" y="53" width="2270" height="2" fill="#f2f3f5"/>
<rect x="19" y="1363" width="2270" height="2" fill="#f2f3f5"/>
<rect x="19" y="53" width="2" height="1312" fill="#f2f3f5"/>
<rect x="2287" y="53" width="2" height="1312" fill="#f2f3f5"/>
<rect x="2116" y="55" width="2" height="1308" fill="#e1e1e3"/>
<rect x="21" y="906" width="2266" height="2" fill="#e0e3eb"/>
<rect x="21" y="1308" width="2266" height="2" fill="#e1e1e3"/>
<g clip-path="url(#cax)">
<text transform="translate(2134.5,903.1) scale(1.06,1)" font-size="24" fill="#131722" font-weight="400" text-anchor="start" textLength="112.7" lengthAdjust="spacing" stroke="#131722" stroke-width="0.38" >70,000.00</text>
<text transform="translate(2134.5,835.6999999999999) scale(1.06,1)" font-size="24" fill="#131722" font-weight="400" text-anchor="start" textLength="112.7" lengthAdjust="spacing" stroke="#131722" stroke-width="0.38" >75,000.00</text>
<text transform="translate(2134.5,768.3000000000001) scale(1.06,1)" font-size="24" fill="#131722" font-weight="400" text-anchor="start" textLength="112.7" lengthAdjust="spacing" stroke="#131722" stroke-width="0.38" >80,000.00</text>
<text transform="translate(2135.5,498.7) scale(1.06,1)" font-size="24" fill="#131722" font-weight="400" text-anchor="start" textLength="125.5" lengthAdjust="spacing" stroke="#131722" stroke-width="0.38" >100,000.00</text>
<text transform="translate(2135.5,431.29999999999995) scale(1.06,1)" font-size="24" fill="#131722" font-weight="400" text-anchor="start" textLength="125.5" lengthAdjust="spacing" stroke="#131722" stroke-width="0.38" >105,000.00</text>
<text transform="translate(2135.5,363.9) scale(1.06,1)" font-size="24" fill="#131722" font-weight="400" text-anchor="start" textLength="125.5" lengthAdjust="spacing" stroke="#131722" stroke-width="0.38" >110,000.00</text>
<text transform="translate(2135.5,296.5) scale(1.06,1)" font-size="24" fill="#131722" font-weight="400" text-anchor="start" textLength="125.5" lengthAdjust="spacing" stroke="#131722" stroke-width="0.38" >115,000.00</text>
<text transform="translate(2135.5,229.1) scale(1.06,1)" font-size="24" fill="#131722" font-weight="400" text-anchor="start" textLength="125.5" lengthAdjust="spacing" stroke="#131722" stroke-width="0.38" >120,000.00</text>
<text transform="translate(2135.5,161.70000000000002) scale(1.06,1)" font-size="24" fill="#131722" font-weight="400" text-anchor="start" textLength="125.5" lengthAdjust="spacing" stroke="#131722" stroke-width="0.38" >125,000.00</text>
</g>
<rect x="2124" y="61.5" width="156" height="52" rx="8" fill="#fff" stroke="#eff0f3" stroke-width="1.5"/>
<text x="2142.0" y="96" font-size="24" fill="#131722" font-weight="400" text-anchor="start" textLength="64.5" lengthAdjust="spacing" stroke="#131722" stroke-width="0.38" >USDT</text>
<path d="M2118,485 H2262 a4,4 0 0 1 4,4 V515 a4,4 0 0 1 -4,4 H2118 Z" fill="#f23645"/>
<text transform="translate(2134.5,509.5) scale(1.06,1)" font-size="24" fill="#fff" font-weight="400" text-anchor="start" textLength="112.7" lengthAdjust="spacing" stroke="#fff" stroke-width="0.38" >96,012.20</text>
<path d="M2118,519 H2262 a4,4 0 0 1 4,4 V549 a4,4 0 0 1 -4,4 H2118 Z" fill="#2962ff"/>
<text transform="translate(2134.5,543.5) scale(1.06,1)" font-size="24" fill="#fff" font-weight="400" text-anchor="start" textLength="112.7" lengthAdjust="spacing" stroke="#fff" stroke-width="0.38" >92,528.94</text>
<path d="M2118,553 H2262 a4,4 0 0 1 4,4 V583 a4,4 0 0 1 -4,4 H2118 Z" fill="#808080"/>
<text transform="translate(2134.5,577.5) scale(1.06,1)" font-size="24" fill="#fff" font-weight="400" text-anchor="start" textLength="112.7" lengthAdjust="spacing" stroke="#fff" stroke-width="0.38" >91,934.16</text>
<path d="M2118,587 H2262 a4,4 0 0 1 4,4 V645 a4,4 0 0 1 -4,4 H2118 Z" fill="#26a69a"/>
<text transform="translate(2134.5,611.3) scale(1.06,1)" font-size="24" fill="#fff" font-weight="400" text-anchor="start" textLength="112.7" lengthAdjust="spacing" stroke="#fff" stroke-width="0.38" >91,695.99</text>
<text transform="translate(2134.5,638.8) scale(1.06,1)" font-size="24" fill="#fff" font-weight="400" text-anchor="start" textLength="99.1" lengthAdjust="spacing" stroke="#fff" stroke-width="0.38" fill-opacity="0.72" stroke-opacity="0.72">17:52:17</text>
<path d="M2118,675 H2262 a4,4 0 0 1 4,4 V705 a4,4 0 0 1 -4,4 H2118 Z" fill="#089981"/>
<text transform="translate(2134.5,699.5) scale(1.06,1)" font-size="24" fill="#fff" font-weight="400" text-anchor="start" textLength="112.7" lengthAdjust="spacing" stroke="#fff" stroke-width="0.38" >85,170.58</text>
<path d="M2118,824.2 H2262 a4,4 0 0 1 4,4 V854 a4,4 0 0 1 -4,4 H2118 Z" fill="#2962ff"/>
<text transform="translate(2134.5,848.6) scale(1.06,1)" font-size="24" fill="#fff" font-weight="400" text-anchor="start" textLength="112.7" lengthAdjust="spacing" stroke="#fff" stroke-width="0.38" >74,120.26</text>
<text transform="translate(2134.5,956.0) scale(1.05,1)" font-size="24" fill="#131722" font-weight="400" text-anchor="start" textLength="63.3" lengthAdjust="spacing" stroke="#131722" stroke-width="0.38" >70.00</text>
<text transform="translate(2134.5,1037.3999999999999) scale(1.05,1)" font-size="24" fill="#131722" font-weight="400" text-anchor="start" textLength="63.3" lengthAdjust="spacing" stroke="#131722" stroke-width="0.38" >60.00</text>
<text transform="translate(2134.5,1118.8) scale(1.05,1)" font-size="24" fill="#131722" font-weight="400" text-anchor="start" textLength="63.3" lengthAdjust="spacing" stroke="#131722" stroke-width="0.38" >50.00</text>
<text transform="translate(2134.5,1200.2) scale(1.05,1)" font-size="24" fill="#131722" font-weight="400" text-anchor="start" textLength="63.3" lengthAdjust="spacing" stroke="#131722" stroke-width="0.38" >40.00</text>
<text transform="translate(2134.5,1281.6) scale(1.05,1)" font-size="24" fill="#131722" font-weight="400" text-anchor="start" textLength="63.3" lengthAdjust="spacing" stroke="#131722" stroke-width="0.38" >30.00</text>
<text x="19.6" y="1345.8" font-size="24" fill="#131722" font-weight="400" text-anchor="start" stroke="#131722" stroke-width="0.38" >Mar</text>
<text x="209.5" y="1345.8" font-size="24" fill="#131722" font-weight="400" text-anchor="middle" stroke="#131722" stroke-width="0.38" >Apr</text>
<text x="372.6" y="1345.8" font-size="24" fill="#131722" font-weight="400" text-anchor="middle" stroke="#131722" stroke-width="0.38" >May</text>
<text x="541.0" y="1345.8" font-size="24" fill="#131722" font-weight="400" text-anchor="middle" stroke="#131722" stroke-width="0.38" >Jun</text>
<text x="704.1" y="1345.8" font-size="24" fill="#131722" font-weight="400" text-anchor="middle" stroke="#131722" stroke-width="0.38" >Jul</text>
<text x="872.5" y="1345.8" font-size="24" fill="#131722" font-weight="400" text-anchor="middle" stroke="#131722" stroke-width="0.38" >Aug</text>
<text x="1041.0" y="1345.8" font-size="24" fill="#131722" font-weight="400" text-anchor="middle" stroke="#131722" stroke-width="0.38" >Sep</text>
<text x="1204.0" y="1345.8" font-size="24" fill="#131722" font-weight="400" text-anchor="middle" stroke="#131722" stroke-width="0.38" >Oct</text>
<text x="1372.5" y="1345.8" font-size="24" fill="#131722" font-weight="400" text-anchor="middle" stroke="#131722" stroke-width="0.38" >Nov</text>
<text x="1535.5" y="1345.8" font-size="24" fill="#131722" font-weight="400" text-anchor="middle" stroke="#131722" stroke-width="0.38" >Dec</text>
<text transform="translate(1671.7,1345.8) scale(1.13,1)" font-size="24" fill="#131722" font-weight="700" text-anchor="start" textLength="57.3" lengthAdjust="spacing" >2026</text>
<text x="1872.4" y="1345.8" font-size="24" fill="#131722" font-weight="400" text-anchor="middle" stroke="#131722" stroke-width="0.38" >Feb</text>
<text x="2024.6" y="1345.8" font-size="24" fill="#131722" font-weight="400" text-anchor="middle" stroke="#131722" stroke-width="0.38" >Mar</text>
<text x="20.4" y="40.3" font-size="24" fill="#131722" font-weight="400" text-anchor="start" textLength="769.6" lengthAdjust="spacing" stroke="#131722" stroke-width="0.38" >tomlexzope created with TradingView.com, Jan 04, 2026 06:07 UTC</text>
<text x="36.0" y="94" font-size="24" fill="#131722" font-weight="400" text-anchor="start" textLength="363.8" lengthAdjust="spacing" stroke="#131722" stroke-width="0.38" >Bitcoin / TetherUS · 1D · Binance</text>
<text x="412.9" y="94" font-size="24" fill="#131722" font-weight="400" text-anchor="start" stroke="#131722" stroke-width="0.38" >O</text>
<text x="431.5" y="94" font-size="24" fill="#26a69a" font-weight="400" text-anchor="start" textLength="112.0" lengthAdjust="spacing" stroke="#26a69a" stroke-width="0.38" >90,628.01</text>
<text x="558.3" y="94" font-size="24" fill="#131722" font-weight="400" text-anchor="start" stroke="#131722" stroke-width="0.38" >H</text>
<text x="575.0" y="94" font-size="24" fill="#26a69a" font-weight="400" text-anchor="start" textLength="110.0" lengthAdjust="spacing" stroke="#26a69a" stroke-width="0.38" >91,810.00</text>
<text x="698.2" y="94" font-size="24" fill="#131722" font-weight="400" text-anchor="start" stroke="#131722" stroke-width="0.38" >L</text>
<text x="711.4" y="94" font-size="24" fill="#26a69a" font-weight="400" text-anchor="start" textLength="116.3" lengthAdjust="spacing" stroke="#26a69a" stroke-width="0.38" >90,628.00</text>
<text x="842.0" y="94" font-size="24" fill="#131722" font-weight="400" text-anchor="start" stroke="#131722" stroke-width="0.38" >C</text>
<text x="858.7" y="94" font-size="24" fill="#26a69a" font-weight="400" text-anchor="start" textLength="113.1" lengthAdjust="spacing" stroke="#26a69a" stroke-width="0.38" >91,695.99</text>
<text x="986.3" y="94" font-size="24" fill="#26a69a" font-weight="400" text-anchor="start" textLength="214.1" lengthAdjust="spacing" stroke="#26a69a" stroke-width="0.38" >+1,067.98 (+1.18%)</text>
<text x="36.0" y="128" font-size="24" fill="#131722" font-weight="400" text-anchor="start" textLength="103.0" lengthAdjust="spacing" stroke="#131722" stroke-width="0.38" >Vol · BTC</text>
<text x="152.8" y="128" font-size="24" fill="#26a69a" font-weight="400" text-anchor="start" textLength="70.2" lengthAdjust="spacing" stroke="#26a69a" stroke-width="0.38" >3.54 K</text>
<text x="36.0" y="162" font-size="24" fill="#131722" font-weight="400" text-anchor="start" textLength="179.0" lengthAdjust="spacing" stroke="#131722" stroke-width="0.38" >SMA (50, close)</text>
<text x="229.5" y="162" font-size="24" fill="#2962ff" font-weight="400" text-anchor="start" textLength="114.0" lengthAdjust="spacing" stroke="#2962ff" stroke-width="0.38" >89,247.36</text>
<text x="35.8" y="948.3" font-size="24" fill="#131722" font-weight="400" text-anchor="start" textLength="161.2" lengthAdjust="spacing" stroke="#131722" stroke-width="0.38" >RSI (14, close)</text>
<text x="211.9" y="948.3" font-size="24" fill="#7e57c2" font-weight="400" text-anchor="start" textLength="64.1" lengthAdjust="spacing" stroke="#7e57c2" stroke-width="0.38" >59.52</text>
<text x="289.5" y="948.3" font-size="24" fill="#fdd835" font-weight="400" text-anchor="start" textLength="61.5" lengthAdjust="spacing" stroke="#fdd835" stroke-width="0.38" >47.27</text>
<g fill="#101114">
<path d="M24.2,1408.2 H47.6 V1438 H36.2 V1423 H24.2 Z"/>
<circle cx="58.1" cy="1414.3" r="6.2"/>
<path d="M66.2,1408.2 H83.8 L72.4,1438 H57.8 Z"/>
</g>
<text x="97.0" y="1438" font-size="43.2" fill="#101114" font-weight="700" text-anchor="start" textLength="243.5" lengthAdjust="spacing" >TradingView</text>
</svg></body></html>
